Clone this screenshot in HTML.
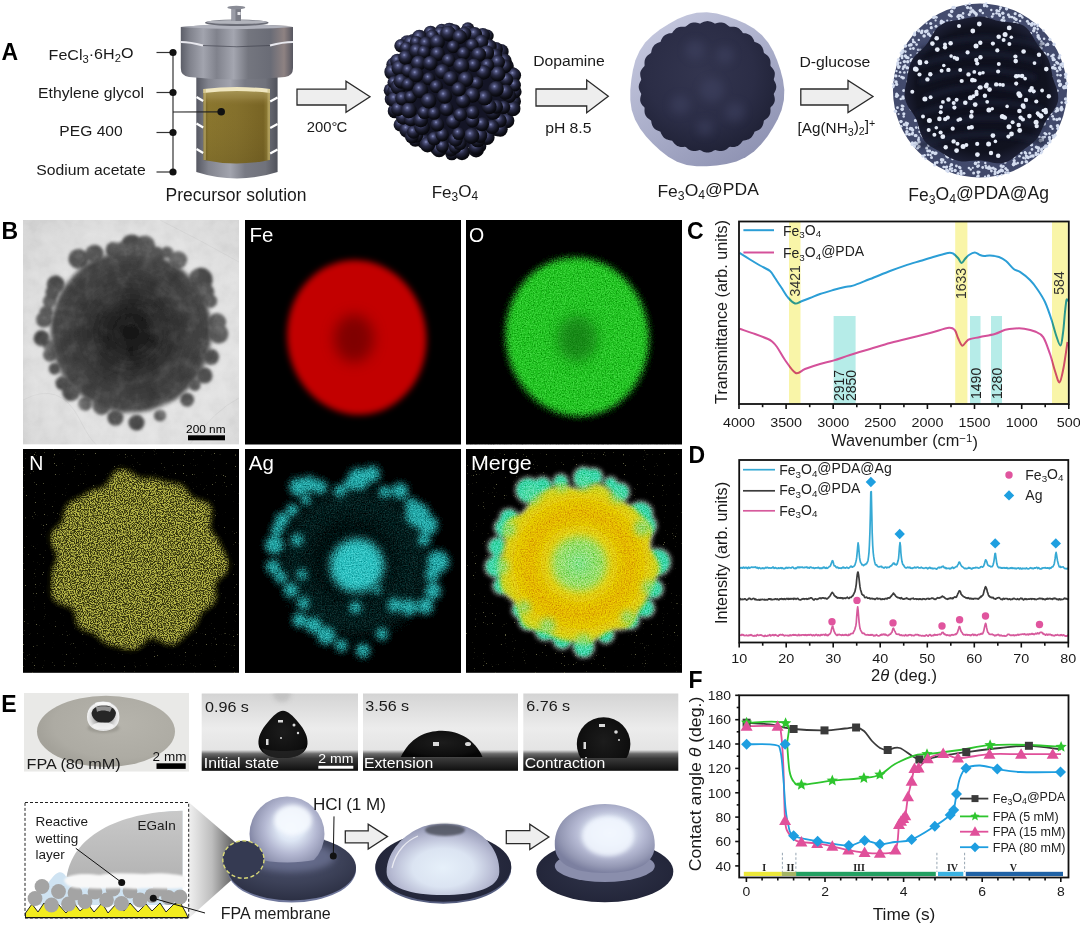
<!DOCTYPE html>
<html><head><meta charset="utf-8"><style>
html,body{margin:0;padding:0;background:#fff;}
body{width:1080px;height:926px;overflow:hidden;position:relative;}
svg{position:absolute;left:0;top:0;font-family:"Liberation Sans", sans-serif;}
</style></head><body>
<svg width="1080" height="926" viewBox="0 0 1080 926">
<defs>
<linearGradient id="metal" x1="0" x2="1" y1="0" y2="0">
<stop offset="0" stop-color="#5c5e68"/><stop offset="0.08" stop-color="#80828c"/><stop offset="0.2" stop-color="#a2a4ae"/><stop offset="0.32" stop-color="#80828c"/>
<stop offset="0.47" stop-color="#a4a6b0"/><stop offset="0.6" stop-color="#74767f"/><stop offset="0.8" stop-color="#6a6c76"/><stop offset="0.92" stop-color="#8e8282"/><stop offset="1" stop-color="#565660"/></linearGradient>
<linearGradient id="metalB" x1="0" x2="1" y1="0" y2="0">
<stop offset="0" stop-color="#565862"/><stop offset="0.15" stop-color="#82848e"/><stop offset="0.42" stop-color="#a2a4ae"/><stop offset="0.6" stop-color="#787a84"/><stop offset="0.85" stop-color="#70727b"/><stop offset="1" stop-color="#50525b"/></linearGradient>
<linearGradient id="gold" x1="0" x2="1" y1="0" y2="0">
<stop offset="0" stop-color="#6a5a20"/><stop offset="0.08" stop-color="#8a762e"/><stop offset="0.5" stop-color="#84702c"/>
<stop offset="0.9" stop-color="#786424"/><stop offset="1" stop-color="#9a8840"/></linearGradient>
<linearGradient id="goldV" x1="0" x2="0" y1="0" y2="1">
<stop offset="0" stop-color="#b0a060" stop-opacity="0.9"/><stop offset="0.12" stop-color="#a08c4c" stop-opacity="0.6"/><stop offset="0.22" stop-color="#8a7434" stop-opacity="0"/><stop offset="1" stop-color="#000" stop-opacity="0.08"/></linearGradient>
<radialGradient id="ball" cx="0.4" cy="0.33" r="0.68">
<stop offset="0" stop-color="#8a92c2"/><stop offset="0.16" stop-color="#50547e"/><stop offset="0.42" stop-color="#282a44"/><stop offset="0.75" stop-color="#10111b"/><stop offset="1" stop-color="#050509"/></radialGradient>
<linearGradient id="pdaShell" x1="0.2" y1="0.1" x2="0.8" y2="0.95">
<stop offset="0" stop-color="#c2c5dc"/><stop offset="0.5" stop-color="#a9adc9"/><stop offset="1" stop-color="#8e92b2"/></linearGradient>
<radialGradient id="pdaCore" cx="0.45" cy="0.4" r="0.65">
<stop offset="0" stop-color="#33354f"/><stop offset="0.6" stop-color="#2b2d46"/><stop offset="1" stop-color="#1e2034"/></radialGradient>
<radialGradient id="agShell" cx="0.45" cy="0.4" r="0.6">
<stop offset="0" stop-color="#4a5274"/><stop offset="1" stop-color="#40486a"/></radialGradient>
<radialGradient id="agCore" cx="0.5" cy="0.5" r="0.5">
<stop offset="0" stop-color="#0e0f1c"/><stop offset="0.85" stop-color="#10121f"/><stop offset="1" stop-color="#1c1f34"/></radialGradient>
<filter id="blur2" x="-20%" y="-20%" width="140%" height="140%"><feGaussianBlur stdDeviation="2"/></filter>
<filter id="blur3" x="-20%" y="-20%" width="140%" height="140%"><feGaussianBlur stdDeviation="3"/></filter>
<filter id="blur4" x="-30%" y="-30%" width="160%" height="160%"><feGaussianBlur stdDeviation="4"/></filter>
<filter id="blur7" x="-50%" y="-50%" width="200%" height="200%"><feGaussianBlur stdDeviation="7"/></filter>
<filter id="blur1" x="-20%" y="-20%" width="140%" height="140%"><feGaussianBlur stdDeviation="1"/></filter>
<filter id="blur15" x="-20%" y="-20%" width="140%" height="140%"><feGaussianBlur stdDeviation="1.5"/></filter>
<filter id="grain" x="0" y="0" width="100%" height="100%">
<feTurbulence type="fractalNoise" baseFrequency="0.75" numOctaves="2" seed="5" result="n"/>
<feColorMatrix in="n" type="matrix" values="1.6 0 0 0 -0.3  1.6 0 0 0 -0.3  1.6 0 0 0 -0.3  0 0 0 0 1" result="g"/>
<feBlend in="g" in2="SourceGraphic" mode="soft-light" result="b"/>
<feComposite in="b" in2="SourceGraphic" operator="in"/></filter>
<filter id="grainT" x="0" y="0" width="100%" height="100%">
<feTurbulence type="fractalNoise" baseFrequency="0.07" numOctaves="3" seed="9" result="n"/>
<feColorMatrix in="n" type="matrix" values="0.38 0 0 0 0.31  0.38 0 0 0 0.31  0.38 0 0 0 0.31  0 0 0 0 1" result="g"/>
<feBlend in="g" in2="SourceGraphic" mode="soft-light" result="b"/>
<feComposite in="b" in2="SourceGraphic" operator="in"/></filter>
<radialGradient id="temBg" cx="0.55" cy="0.55" r="0.8"><stop offset="0" stop-color="#e8e8e8"/><stop offset="0.6" stop-color="#e0e0e0"/><stop offset="1" stop-color="#d2d2d2"/></radialGradient>
<radialGradient id="temCore" cx="0.5" cy="0.5" r="0.5"><stop offset="0" stop-color="#161616"/><stop offset="0.2" stop-color="#1d1d1d"/><stop offset="0.42" stop-color="#2d2d2d"/><stop offset="0.7" stop-color="#3b3b3b"/><stop offset="0.9" stop-color="#444"/><stop offset="1" stop-color="#4e4e4e"/></radialGradient>
<filter id="speckY" x="0" y="0" width="100%" height="100%">
<feTurbulence type="fractalNoise" baseFrequency="0.85" numOctaves="2" seed="3" result="n"/>
<feColorMatrix in="n" type="matrix" values="0 0 0 0 0.74  0 0 0 0 0.74  0 0 0 0 0.1  0 0 0 -4.5 2.75"/><feGaussianBlur stdDeviation="0.4" result="sp"/>
<feGaussianBlur in="SourceAlpha" stdDeviation="2.5" result="sa"/>
<feComposite in="sp" in2="sa" operator="in"/></filter>
<filter id="speckW" x="0" y="0" width="100%" height="100%">
<feTurbulence type="fractalNoise" baseFrequency="0.9" numOctaves="1" seed="11" result="n"/>
<feColorMatrix in="n" type="matrix" values="0 0 0 0 0.5  0 0 0 0 0.5  0 0 0 0 0.2  0 0 0 14 -9.9"/>
<feComposite in2="SourceAlpha" operator="in"/></filter>
<radialGradient id="mG" cx="0.5" cy="0.5" r="0.5"><stop offset="0" stop-color="#7ee28a"/><stop offset="0.28" stop-color="#9ade60"/><stop offset="0.4" stop-color="#e2d00a"/><stop offset="0.62" stop-color="#e4b600"/><stop offset="0.85" stop-color="#e2cc08"/><stop offset="1" stop-color="#c4d828"/></radialGradient>
<radialGradient id="diskG" cx="0.6" cy="0.4" r="0.6"><stop offset="0" stop-color="#b6b4ac"/><stop offset="0.8" stop-color="#adaba3"/><stop offset="1" stop-color="#a4a29a"/></radialGradient>
<radialGradient id="silverG" cx="0.5" cy="0.55" r="0.55"><stop offset="0" stop-color="#777"/><stop offset="0.45" stop-color="#aaa"/><stop offset="0.75" stop-color="#e0e0e0"/><stop offset="0.92" stop-color="#f4f4f4"/><stop offset="1" stop-color="#bdbdbd"/></radialGradient>
<linearGradient id="camBg" x1="0" x2="0" y1="0" y2="1"><stop offset="0" stop-color="#d4d4d4"/><stop offset="0.45" stop-color="#ececec"/><stop offset="0.73" stop-color="#e4e4e4"/><stop offset="0.78" stop-color="#6a6a6a"/><stop offset="0.84" stop-color="#3a3a3a"/><stop offset="1" stop-color="#0e0e0e"/></linearGradient>
<radialGradient id="dropG" cx="0.5" cy="0.45" r="0.6"><stop offset="0" stop-color="#1c1c1c"/><stop offset="0.8" stop-color="#0e0e0e"/><stop offset="1" stop-color="#050505"/></radialGradient>
<linearGradient id="zoomG" x1="0" x2="1" y1="0" y2="0"><stop offset="0" stop-color="#f0f0f0"/><stop offset="0.5" stop-color="#bdbdbd"/><stop offset="1" stop-color="#5a5a5a"/></linearGradient>
<linearGradient id="egainG" x1="0" x2="0" y1="0" y2="1"><stop offset="0" stop-color="#c9c9c9"/><stop offset="1" stop-color="#b4b4b4"/></linearGradient>
<radialGradient id="memG" cx="0.5" cy="0.35" r="0.65"><stop offset="0" stop-color="#4e5470"/><stop offset="0.6" stop-color="#3c4158"/><stop offset="1" stop-color="#2c3044"/></radialGradient>
<radialGradient id="memG2" cx="0.5" cy="0.5" r="0.5"><stop offset="0" stop-color="#30344a"/><stop offset="1" stop-color="#23263a"/></radialGradient>
<radialGradient id="domeG" cx="0.55" cy="0.42" r="0.58"><stop offset="0" stop-color="#f4f8ff"/><stop offset="0.3" stop-color="#dde6f4"/><stop offset="0.6" stop-color="#b4b8d2"/><stop offset="0.85" stop-color="#9498b4"/><stop offset="1" stop-color="#7c80a0"/></radialGradient>
<radialGradient id="dome2G" cx="0.5" cy="0.62" r="0.6"><stop offset="0" stop-color="#e6f0fa"/><stop offset="0.45" stop-color="#dbe4f2"/><stop offset="0.75" stop-color="#b8bcd4"/><stop offset="1" stop-color="#9498b4"/></radialGradient>
</defs>
<text x="1.5" y="60" font-size="23" text-anchor="start" font-weight="bold" fill="#000" >A</text>
<g transform="translate(91,60) scale(1.05,1)"><text x="0" y="0" font-size="15.3" text-anchor="middle" font-weight="normal" fill="#1a1a1a" >FeCl<tspan font-size="70%" dy="0.25em">3</tspan><tspan dy="-0.25em">​</tspan>·6H<tspan font-size="70%" dy="0.25em">2</tspan><tspan dy="-0.25em">​</tspan>O</text></g>
<g transform="translate(91,98) scale(1.05,1)"><text x="0" y="0" font-size="15" text-anchor="middle" font-weight="normal" fill="#1a1a1a" >Ethylene glycol</text></g>
<g transform="translate(91,136.3) scale(1.04,1)"><text x="0" y="0" font-size="15" text-anchor="middle" font-weight="normal" fill="#1a1a1a" >PEG 400</text></g>
<g transform="translate(91,174.5) scale(1.05,1)"><text x="0" y="0" font-size="15" text-anchor="middle" font-weight="normal" fill="#1a1a1a" >Sodium acetate</text></g>
<g stroke="#333" stroke-width="1.2" fill="none">
<line x1="156.5" y1="52.5" x2="173" y2="52.5"/>
<line x1="156.5" y1="92.5" x2="173" y2="92.5"/>
<line x1="156.5" y1="132.5" x2="173" y2="132.5"/>
<line x1="156.5" y1="172" x2="173" y2="172"/>
<line x1="173" y1="52.5" x2="173" y2="172"/>
</g>
<path d="M196.3,72 L277.6,72 L277.6,172 Q237,185 196.3,172 Z" fill="url(#metalB)"/>
<path d="M180.8,27 Q237,21 293,27 L293,68 Q293,76 285,77 Q237,82 189,77 Q180.8,76 180.8,68 Z" fill="url(#metal)"/>
<path d="M180.8,27 Q237,21 293,27 Q237,31 180.8,27 Z" fill="#b0b2bc"/>
<path d="M181,42 Q190,42 203,45.5" stroke="#e8e8ee" stroke-width="2.2" fill="none"/>
<path d="M270,45.5 Q283,42 293,42" stroke="#e8e8ee" stroke-width="2.2" fill="none"/>
<path d="M203,45.5 Q237,48 270,45.5" stroke="#3a3c48" stroke-width="1" fill="none" opacity="0.6"/>
<ellipse cx="236.8" cy="22.8" rx="31.8" ry="3.2" fill="#6a6c76"/>
<ellipse cx="236.8" cy="22" rx="30" ry="2" fill="#b2b4bc"/>
<rect x="231.5" y="8" width="9.5" height="13" fill="#7a7c86"/>
<rect x="231.5" y="8" width="4" height="13" fill="#9a9ca6"/>
<rect x="237.5" y="12" width="3" height="3" fill="#e8e8ec"/>
<ellipse cx="236.3" cy="7.5" rx="9" ry="1.8" fill="#8a8c96"/>
<path d="M203.4,89 L270,89 L270,160 Q237,167 203.4,160 Z" fill="url(#gold)"/>
<path d="M203.4,89 L270,89 L270,160 Q237,167 203.4,160 Z" fill="url(#goldV)"/>
<path d="M203.4,89 Q237,85 270,89 L270,93 Q237,89 203.4,93 Z" fill="#efe6c0"/>
<rect x="203.4" y="89" width="2.5" height="71" fill="#c8b878" opacity="0.6"/>
<rect x="267.5" y="89" width="2.5" height="71" fill="#c8b878" opacity="0.5"/>
<path d="M196.5,97 L203.2,101" stroke="#fff" stroke-width="2.2" fill="none"/>
<path d="M270.2,101.5 L277.5,97.5" stroke="#fff" stroke-width="2.2" fill="none"/>
<path d="M196.5,123.5 L203.2,127.5" stroke="#fff" stroke-width="2.2" fill="none"/>
<path d="M270.2,128.0 L277.5,124.0" stroke="#fff" stroke-width="2.2" fill="none"/>
<path d="M196.5,149 L203.2,153" stroke="#fff" stroke-width="2.2" fill="none"/>
<path d="M270.2,153.5 L277.5,149.5" stroke="#fff" stroke-width="2.2" fill="none"/>
<line x1="173" y1="112" x2="221" y2="111.8" stroke="#222" stroke-width="1.2"/>
<circle cx="221.2" cy="111.8" r="3.8" fill="#111"/>
<g fill="#111">
<circle cx="173" cy="52.5" r="3.6"/>
<circle cx="173" cy="92.5" r="3.6"/>
<circle cx="173" cy="132.5" r="3.6"/>
<circle cx="173" cy="172" r="3.6"/>
</g>
<text x="236" y="200.7" font-size="17.5" text-anchor="middle" font-weight="normal" fill="#1a1a1a" >Precursor solution</text>
<path d="M297,89.1 L346,89.1 L346,81.1 L370,96.7 L346,112.2 L346,105 L297,105 Z" fill="#eeeeee" stroke="#2a2a2a" stroke-width="1.3" stroke-linejoin="miter"/>
<g transform="translate(327,132) scale(0.99,1)"><text x="0" y="0" font-size="15" text-anchor="middle" font-weight="normal" fill="#1a1a1a" >200°<tspan dx="-1">C</tspan></text></g>
<g transform="translate(569,66) scale(1.05,1)"><text x="0" y="0" font-size="15" text-anchor="middle" font-weight="normal" fill="#1a1a1a" >Dopamine</text></g>
<path d="M536,89 L586.7,89 L586.7,80 L608.3,96.3 L586.7,112.7 L586.7,106 L536,106 Z" fill="#eeeeee" stroke="#2a2a2a" stroke-width="1.3" stroke-linejoin="miter"/>
<g transform="translate(568.3,132.7) scale(1.05,1)"><text x="0" y="0" font-size="15" text-anchor="middle" font-weight="normal" fill="#1a1a1a" >pH 8.5</text></g>
<g transform="translate(834.9,66.7) scale(1.05,1)"><text x="0" y="0" font-size="15" text-anchor="middle" font-weight="normal" fill="#1a1a1a" >D-glucose</text></g>
<path d="M800.8,89 L848,89 L848,80.5 L873,96.5 L848,112.5 L848,105 L800.8,105 Z" fill="#eeeeee" stroke="#2a2a2a" stroke-width="1.3" stroke-linejoin="miter"/>
<g transform="translate(836.4,133.3) scale(1.02,1)"><text x="0" y="0" font-size="15" text-anchor="middle" font-weight="normal" fill="#1a1a1a" >[Ag(NH<tspan font-size="70%" dy="0.25em">3</tspan><tspan dy="-0.25em">​</tspan>)<tspan font-size="70%" dy="0.25em">2</tspan><tspan dy="-0.25em">​</tspan>]<tspan font-size="70%" dy="-0.38em">+</tspan><tspan dy="0.38em">​</tspan></text></g>
<circle cx="451.7" cy="89.5" r="60" fill="#141526"/>
<g>
<circle cx="407.3" cy="42.8" r="7.6" fill="url(#ball)"/>
<circle cx="451.8" cy="153.8" r="6.5" fill="url(#ball)"/>
<circle cx="487.3" cy="36" r="6.4" fill="url(#ball)"/>
<circle cx="392.4" cy="98.9" r="7.7" fill="url(#ball)"/>
<circle cx="500.7" cy="124.9" r="7.2" fill="url(#ball)"/>
<circle cx="441.7" cy="30.4" r="6.6" fill="url(#ball)"/>
<circle cx="424.2" cy="141.9" r="7.3" fill="url(#ball)"/>
<circle cx="512.1" cy="73.9" r="6.9" fill="url(#ball)"/>
<circle cx="393.3" cy="64.6" r="7" fill="url(#ball)"/>
<circle cx="476.1" cy="149.5" r="7.9" fill="url(#ball)"/>
<circle cx="467.9" cy="28.8" r="6.5" fill="url(#ball)"/>
<circle cx="400.4" cy="124.8" r="6.8" fill="url(#ball)"/>
<circle cx="513.6" cy="101.2" r="7.4" fill="url(#ball)"/>
<circle cx="413.4" cy="41.6" r="7.5" fill="url(#ball)"/>
<circle cx="437.3" cy="147.5" r="7.8" fill="url(#ball)"/>
<circle cx="501.1" cy="51.7" r="7.6" fill="url(#ball)"/>
<circle cx="390.6" cy="90.2" r="6.9" fill="url(#ball)"/>
<circle cx="497.1" cy="128.6" r="7.6" fill="url(#ball)"/>
<circle cx="449.4" cy="30.4" r="7.7" fill="url(#ball)"/>
<circle cx="415.3" cy="139.8" r="6.9" fill="url(#ball)"/>
<circle cx="513" cy="81.5" r="6.4" fill="url(#ball)"/>
<circle cx="401.1" cy="45.8" r="6.8" fill="url(#ball)"/>
<circle cx="462" cy="152.2" r="8" fill="url(#ball)"/>
<circle cx="482.8" cy="35.3" r="7.3" fill="url(#ball)"/>
<circle cx="395.1" cy="110.9" r="7.4" fill="url(#ball)"/>
<circle cx="506.9" cy="120.7" r="7.5" fill="url(#ball)"/>
<circle cx="430.6" cy="32.7" r="7" fill="url(#ball)"/>
<circle cx="434.1" cy="144.5" r="7.1" fill="url(#ball)"/>
<circle cx="506.7" cy="66.1" r="7.1" fill="url(#ball)"/>
<circle cx="392.3" cy="72" r="8" fill="url(#ball)"/>
<circle cx="479.7" cy="146" r="6.7" fill="url(#ball)"/>
<circle cx="467.6" cy="31.8" r="6.4" fill="url(#ball)"/>
<circle cx="407.1" cy="129.9" r="7.8" fill="url(#ball)"/>
<circle cx="514.9" cy="91.8" r="6.7" fill="url(#ball)"/>
<circle cx="410.6" cy="42.7" r="7.3" fill="url(#ball)"/>
<circle cx="450.8" cy="149.5" r="7.2" fill="url(#ball)"/>
<circle cx="495.9" cy="49" r="7.1" fill="url(#ball)"/>
<circle cx="393.6" cy="90.9" r="6.4" fill="url(#ball)"/>
<circle cx="500.3" cy="129.3" r="7.4" fill="url(#ball)"/>
<circle cx="440.2" cy="33.6" r="7.2" fill="url(#ball)"/>
<circle cx="416.5" cy="136.1" r="6.6" fill="url(#ball)"/>
<circle cx="513.8" cy="75.3" r="7.3" fill="url(#ball)"/>
<circle cx="397.5" cy="61.1" r="7.4" fill="url(#ball)"/>
<circle cx="476.3" cy="147.7" r="7.4" fill="url(#ball)"/>
<circle cx="474.7" cy="34.4" r="7.4" fill="url(#ball)"/>
<circle cx="395.2" cy="110.4" r="6.9" fill="url(#ball)"/>
<circle cx="512.9" cy="108.7" r="7.6" fill="url(#ball)"/>
<circle cx="419.4" cy="37.5" r="7.7" fill="url(#ball)"/>
<circle cx="439.1" cy="149.6" r="7.7" fill="url(#ball)"/>
<circle cx="504.3" cy="60.9" r="7.4" fill="url(#ball)"/>
<circle cx="393.8" cy="82.4" r="6.3" fill="url(#ball)"/>
<circle cx="487" cy="137.5" r="7.6" fill="url(#ball)"/>
<circle cx="454.4" cy="30.5" r="6.3" fill="url(#ball)"/>
<circle cx="411.8" cy="136.6" r="6.9" fill="url(#ball)"/>
<circle cx="514.4" cy="85.2" r="6.5" fill="url(#ball)"/>
<circle cx="406.2" cy="48.3" r="6.6" fill="url(#ball)"/>
<circle cx="455.3" cy="147.3" r="6.4" fill="url(#ball)"/>
<circle cx="489.6" cy="46.7" r="7.2" fill="url(#ball)"/>
<circle cx="394.8" cy="99.6" r="7.8" fill="url(#ball)"/>
<circle cx="499.8" cy="120.8" r="7" fill="url(#ball)"/>
<circle cx="432.1" cy="36" r="6.5" fill="url(#ball)"/>
<circle cx="427.5" cy="144.6" r="7.8" fill="url(#ball)"/>
<circle cx="505" cy="66.4" r="6.8" fill="url(#ball)"/>
<circle cx="399.3" cy="68" r="7.8" fill="url(#ball)"/>
<circle cx="477.8" cy="139.9" r="7.4" fill="url(#ball)"/>
<circle cx="464.4" cy="33.6" r="6.9" fill="url(#ball)"/>
<circle cx="403.1" cy="117.5" r="7.2" fill="url(#ball)"/>
<circle cx="509.3" cy="96.1" r="6.9" fill="url(#ball)"/>
<circle cx="416.2" cy="42.2" r="6.3" fill="url(#ball)"/>
<circle cx="442.4" cy="146.1" r="6.6" fill="url(#ball)"/>
<circle cx="495.2" cy="55.5" r="7" fill="url(#ball)"/>
<circle cx="398.5" cy="86.7" r="7.9" fill="url(#ball)"/>
<circle cx="492.2" cy="126.9" r="7.1" fill="url(#ball)"/>
<circle cx="448.2" cy="33.5" r="7.9" fill="url(#ball)"/>
<circle cx="413.5" cy="132.2" r="6.6" fill="url(#ball)"/>
<circle cx="506.5" cy="79.6" r="6.7" fill="url(#ball)"/>
<circle cx="405.7" cy="57.5" r="7.3" fill="url(#ball)"/>
<circle cx="459.7" cy="143.5" r="6.8" fill="url(#ball)"/>
<circle cx="481.2" cy="41.9" r="7.1" fill="url(#ball)"/>
<circle cx="398.2" cy="109" r="7.2" fill="url(#ball)"/>
<circle cx="503.6" cy="107.3" r="6.6" fill="url(#ball)"/>
<circle cx="425.7" cy="43.7" r="7.1" fill="url(#ball)"/>
<circle cx="434.2" cy="138.6" r="6.9" fill="url(#ball)"/>
<circle cx="497.9" cy="62.1" r="7.2" fill="url(#ball)"/>
<circle cx="401.1" cy="81.2" r="7.5" fill="url(#ball)"/>
<circle cx="479.9" cy="135.6" r="7.4" fill="url(#ball)"/>
<circle cx="459.7" cy="36.9" r="7.3" fill="url(#ball)"/>
<circle cx="410.7" cy="119.7" r="6.5" fill="url(#ball)"/>
<circle cx="505.5" cy="92.1" r="7.6" fill="url(#ball)"/>
<circle cx="416.6" cy="51" r="7.5" fill="url(#ball)"/>
<circle cx="455.7" cy="139.6" r="7.1" fill="url(#ball)"/>
<circle cx="486.7" cy="52.9" r="7.5" fill="url(#ball)"/>
<circle cx="402.3" cy="98.5" r="7.1" fill="url(#ball)"/>
<circle cx="493.2" cy="112" r="7.7" fill="url(#ball)"/>
<circle cx="437.3" cy="42.1" r="7.6" fill="url(#ball)"/>
<circle cx="422.1" cy="127.2" r="7.8" fill="url(#ball)"/>
<circle cx="497.7" cy="73.9" r="7.7" fill="url(#ball)"/>
<circle cx="408.2" cy="70.6" r="6.7" fill="url(#ball)"/>
<circle cx="471.5" cy="136" r="7.9" fill="url(#ball)"/>
<circle cx="472.1" cy="45.1" r="6.5" fill="url(#ball)"/>
<circle cx="408.8" cy="110.5" r="7.9" fill="url(#ball)"/>
<circle cx="496.2" cy="106.9" r="6.9" fill="url(#ball)"/>
<circle cx="423.9" cy="52" r="6.6" fill="url(#ball)"/>
<circle cx="442.2" cy="134.8" r="6.7" fill="url(#ball)"/>
<circle cx="487.4" cy="65.3" r="6.7" fill="url(#ball)"/>
<circle cx="408" cy="84.4" r="6.4" fill="url(#ball)"/>
<circle cx="482" cy="124.2" r="7" fill="url(#ball)"/>
<circle cx="453.2" cy="46.8" r="6.4" fill="url(#ball)"/>
<circle cx="420.8" cy="120.2" r="7.3" fill="url(#ball)"/>
<circle cx="496" cy="89" r="7.8" fill="url(#ball)"/>
<circle cx="418.5" cy="63.1" r="7.5" fill="url(#ball)"/>
<circle cx="458.6" cy="133.7" r="6.4" fill="url(#ball)"/>
<circle cx="478.7" cy="54.6" r="7.4" fill="url(#ball)"/>
<circle cx="410.7" cy="97" r="6.3" fill="url(#ball)"/>
<circle cx="489.3" cy="106.8" r="7.4" fill="url(#ball)"/>
<circle cx="437.6" cy="53.9" r="7.3" fill="url(#ball)"/>
<circle cx="437.4" cy="124.6" r="6.8" fill="url(#ball)"/>
<circle cx="483.6" cy="72.4" r="7.3" fill="url(#ball)"/>
<circle cx="416.2" cy="74.8" r="7.5" fill="url(#ball)"/>
<circle cx="472.5" cy="120.8" r="6.7" fill="url(#ball)"/>
<circle cx="463.6" cy="53.3" r="6.5" fill="url(#ball)"/>
<circle cx="424.4" cy="112.5" r="6.6" fill="url(#ball)"/>
<circle cx="484.7" cy="97.9" r="7.7" fill="url(#ball)"/>
<circle cx="430.2" cy="63.4" r="7.3" fill="url(#ball)"/>
<circle cx="453.2" cy="121.6" r="7.3" fill="url(#ball)"/>
<circle cx="473.9" cy="65.2" r="6.8" fill="url(#ball)"/>
<circle cx="420.3" cy="90.3" r="8" fill="url(#ball)"/>
<circle cx="472.6" cy="112.5" r="6.7" fill="url(#ball)"/>
<circle cx="448.6" cy="60.3" r="6.8" fill="url(#ball)"/>
<circle cx="434.1" cy="113.3" r="6.5" fill="url(#ball)"/>
<circle cx="476.5" cy="83.2" r="6.6" fill="url(#ball)"/>
<circle cx="428.9" cy="78.8" r="6.5" fill="url(#ball)"/>
<circle cx="460.3" cy="114.8" r="6.8" fill="url(#ball)"/>
<circle cx="461.2" cy="65.9" r="8" fill="url(#ball)"/>
<circle cx="428.7" cy="100.8" r="7.7" fill="url(#ball)"/>
<circle cx="472.4" cy="95.1" r="7.6" fill="url(#ball)"/>
<circle cx="442.3" cy="71.6" r="7.5" fill="url(#ball)"/>
<circle cx="446.5" cy="108.9" r="7.1" fill="url(#ball)"/>
<circle cx="465.7" cy="79.3" r="7.7" fill="url(#ball)"/>
<circle cx="436.3" cy="86.5" r="6.6" fill="url(#ball)"/>
<circle cx="463.1" cy="100.8" r="7.3" fill="url(#ball)"/>
<circle cx="450.5" cy="78.4" r="7.5" fill="url(#ball)"/>
<circle cx="444.6" cy="96.2" r="7.6" fill="url(#ball)"/>
<circle cx="458.6" cy="89.3" r="7.2" fill="url(#ball)"/>
</g>
<text x="454.9" y="198" font-size="17" text-anchor="middle" font-weight="normal" fill="#1a1a1a" >Fe<tspan font-size="70%" dy="0.25em">3</tspan><tspan dy="-0.25em">​</tspan>O<tspan font-size="70%" dy="0.25em">4</tspan><tspan dy="-0.25em">​</tspan></text>
<path d="M784.3,89.9 L783.9,100.1 L781.6,109.9 L777.7,119.3 L772.8,128 L767.4,136.4 L761.2,144.3 L754,151.5 L745.7,157.3 L736.4,161.4 L726.6,163.9 L716.7,165.5 L706.8,166.3 L696.7,166.3 L686.7,164.9 L677,161.7 L668.2,156.8 L660.2,150.6 L652.9,143.8 L646.1,136.4 L640,128.5 L635,119.6 L631.7,110 L630.3,100 L630.3,89.9 L631.3,80 L632.9,70.1 L635.4,60.3 L639.5,51 L645.2,42.6 L652.3,35.4 L660.3,29.3 L668.7,23.9 L677.5,19.1 L686.8,15.2 L696.6,12.8 L706.8,12.3 L716.8,13.6 L726.6,16.2 L736,19.5 L745.2,23.5 L753.9,28.5 L761.8,34.9 L768.3,42.7 L773.4,51.5 L777.3,60.7 L780.5,70.2 L783,79.9 Z" fill="url(#pdaShell)"/>
<path d="M776.3,86.8 L776.2,87.9 L776,89.1 L775.6,90.2 L775.1,91.3 L774.5,92.4 L773.9,93.5 L773.8,94.6 L774.2,95.8 L774.5,96.9 L774.7,98.1 L774.8,99.3 L774.8,100.5 L774.6,101.6 L774.2,102.7 L773.7,103.7 L773,104.7 L772.3,105.7 L771.4,106.6 L770.5,107.5 L770.4,108.7 L770.5,109.9 L770.5,111.1 L770.4,112.3 L770.2,113.5 L769.8,114.6 L769.4,115.6 L768.7,116.6 L768,117.5 L767.1,118.3 L766.1,119.1 L765.1,119.8 L764,120.5 L763.7,121.6 L763.5,122.9 L763.2,124 L762.8,125.2 L762.3,126.3 L761.7,127.2 L761,128.2 L760.1,129 L759.1,129.7 L758.1,130.3 L756.9,130.8 L755.7,131.3 L754.5,131.7 L754.1,132.9 L753.6,134 L753,135.1 L752.4,136.1 L751.7,137 L750.8,137.9 L749.9,138.6 L748.8,139.2 L747.7,139.6 L746.5,140 L745.3,140.3 L744,140.4 L742.8,140.7 L742.1,141.8 L741.3,142.8 L740.5,143.7 L739.6,144.5 L738.7,145.3 L737.7,145.9 L736.6,146.3 L735.4,146.7 L734.2,146.9 L732.9,146.9 L731.7,146.9 L730.4,146.8 L729.2,147 L728.3,147.8 L727.3,148.7 L726.3,149.4 L725.2,150 L724.1,150.5 L723,150.8 L721.8,151 L720.6,151.1 L719.4,151 L718.1,150.8 L716.9,150.5 L715.6,150.1 L714.5,150.2 L713.4,150.8 L712.2,151.4 L711.1,151.9 L709.9,152.2 L708.7,152.4 L707.5,152.5 L706.3,152.4 L705.1,152.2 L703.9,151.9 L702.8,151.4 L701.6,150.8 L700.5,150.2 L699.4,150.1 L698.1,150.5 L696.9,150.8 L695.6,151 L694.4,151.1 L693.2,151 L692,150.8 L690.9,150.5 L689.8,150 L688.7,149.4 L687.7,148.7 L686.7,147.8 L685.8,147 L684.6,146.8 L683.3,146.9 L682.1,146.9 L680.8,146.9 L679.6,146.7 L678.4,146.3 L677.3,145.9 L676.3,145.3 L675.4,144.5 L674.5,143.7 L673.7,142.8 L672.9,141.8 L672.2,140.7 L671,140.4 L669.7,140.3 L668.5,140 L667.3,139.6 L666.2,139.2 L665.1,138.6 L664.2,137.9 L663.3,137 L662.6,136.1 L662,135.1 L661.4,134 L660.9,132.9 L660.5,131.7 L659.3,131.3 L658.1,130.8 L656.9,130.3 L655.9,129.7 L654.9,129 L654,128.2 L653.3,127.2 L652.7,126.3 L652.2,125.2 L651.8,124 L651.5,122.9 L651.3,121.6 L651,120.5 L649.9,119.8 L648.9,119.1 L647.9,118.3 L647,117.5 L646.3,116.6 L645.6,115.6 L645.2,114.6 L644.8,113.5 L644.6,112.3 L644.5,111.1 L644.5,109.9 L644.6,108.7 L644.5,107.5 L643.6,106.6 L642.7,105.7 L642,104.7 L641.3,103.7 L640.8,102.7 L640.4,101.6 L640.2,100.5 L640.2,99.3 L640.3,98.1 L640.5,96.9 L640.8,95.8 L641.2,94.6 L641.1,93.5 L640.5,92.4 L639.9,91.3 L639.4,90.2 L639,89.1 L638.8,87.9 L638.7,86.8 L638.8,85.7 L639,84.5 L639.4,83.4 L639.9,82.3 L640.5,81.2 L641.1,80.1 L641.2,79 L640.8,77.8 L640.5,76.7 L640.3,75.5 L640.2,74.3 L640.2,73.1 L640.4,72 L640.8,70.9 L641.3,69.9 L642,68.9 L642.7,67.9 L643.6,67 L644.5,66.1 L644.6,64.9 L644.5,63.7 L644.5,62.5 L644.6,61.3 L644.8,60.1 L645.2,59 L645.6,58 L646.3,57 L647,56.1 L647.9,55.3 L648.9,54.5 L649.9,53.8 L651,53.1 L651.3,52 L651.5,50.7 L651.8,49.6 L652.2,48.4 L652.7,47.3 L653.3,46.4 L654,45.4 L654.9,44.6 L655.9,43.9 L656.9,43.3 L658.1,42.8 L659.3,42.3 L660.5,41.9 L660.9,40.7 L661.4,39.6 L662,38.5 L662.6,37.5 L663.3,36.6 L664.2,35.7 L665.1,35 L666.2,34.4 L667.3,34 L668.5,33.6 L669.7,33.3 L671,33.2 L672.2,32.9 L672.9,31.8 L673.7,30.8 L674.5,29.9 L675.4,29.1 L676.3,28.3 L677.3,27.7 L678.4,27.3 L679.6,26.9 L680.8,26.7 L682.1,26.7 L683.3,26.7 L684.6,26.8 L685.8,26.6 L686.7,25.8 L687.7,24.9 L688.7,24.2 L689.8,23.6 L690.9,23.1 L692,22.8 L693.2,22.6 L694.4,22.5 L695.6,22.6 L696.9,22.8 L698.1,23.1 L699.4,23.5 L700.5,23.4 L701.6,22.8 L702.8,22.2 L703.9,21.7 L705.1,21.4 L706.3,21.2 L707.5,21.1 L708.7,21.2 L709.9,21.4 L711.1,21.7 L712.2,22.2 L713.4,22.8 L714.5,23.4 L715.6,23.5 L716.9,23.1 L718.1,22.8 L719.4,22.6 L720.6,22.5 L721.8,22.6 L723,22.8 L724.1,23.1 L725.2,23.6 L726.3,24.2 L727.3,24.9 L728.3,25.8 L729.2,26.6 L730.4,26.8 L731.7,26.7 L732.9,26.7 L734.2,26.7 L735.4,26.9 L736.6,27.3 L737.7,27.7 L738.7,28.3 L739.6,29.1 L740.5,29.9 L741.3,30.8 L742.1,31.8 L742.8,32.9 L744,33.2 L745.3,33.3 L746.5,33.6 L747.7,34 L748.8,34.4 L749.9,35 L750.8,35.7 L751.7,36.6 L752.4,37.5 L753,38.5 L753.6,39.6 L754.1,40.7 L754.5,41.9 L755.7,42.3 L756.9,42.8 L758.1,43.3 L759.1,43.9 L760.1,44.6 L761,45.4 L761.7,46.4 L762.3,47.3 L762.8,48.4 L763.2,49.6 L763.5,50.7 L763.7,52 L764,53.1 L765.1,53.8 L766.1,54.5 L767.1,55.3 L768,56.1 L768.7,57 L769.4,58 L769.8,59 L770.2,60.1 L770.4,61.3 L770.5,62.5 L770.5,63.7 L770.4,64.9 L770.5,66.1 L771.4,67 L772.3,67.9 L773,68.9 L773.7,69.9 L774.2,70.9 L774.6,72 L774.8,73.1 L774.8,74.3 L774.7,75.5 L774.5,76.7 L774.2,77.8 L773.8,79 L773.9,80.1 L774.5,81.2 L775.1,82.3 L775.6,83.4 L776,84.5 L776.2,85.7 Z" fill="url(#pdaCore)"/>
<g fill="#4a4d70" opacity="0.35" filter="url(#blur4)">
<circle cx="695" cy="50" r="10"/>
<circle cx="725" cy="55" r="9"/>
<circle cx="712" cy="90" r="12"/>
<circle cx="680" cy="105" r="10"/>
<circle cx="735" cy="112" r="10"/>
<circle cx="705" cy="128" r="8"/>
</g>
<g transform="translate(708.1,197.3) scale(1.03,1)"><text x="0" y="0" font-size="17" text-anchor="middle" font-weight="normal" fill="#1a1a1a" >Fe<tspan font-size="70%" dy="0.25em">3</tspan><tspan dy="-0.25em">​</tspan>O<tspan font-size="70%" dy="0.25em">4</tspan><tspan dy="-0.25em">​</tspan>@PDA</text></g>
<circle cx="980" cy="90.5" r="87" fill="url(#agShell)"/>
<g fill="#d4ddf0">
<circle cx="1059.5" cy="67.7" r="1.7"/>
<circle cx="951.9" cy="170.9" r="1.4"/>
<circle cx="1044.2" cy="53.5" r="1.7"/>
<circle cx="1001.2" cy="169.8" r="1.5"/>
<circle cx="1027" cy="162.1" r="1.3"/>
<circle cx="952.5" cy="158.9" r="1.3"/>
<circle cx="897.5" cy="107.7" r="1.4"/>
<circle cx="951.3" cy="21.7" r="1.4"/>
<circle cx="895.4" cy="111.2" r="1.7"/>
<circle cx="939.6" cy="31.8" r="1.4"/>
<circle cx="960.8" cy="15.5" r="1.5"/>
<circle cx="911.3" cy="109" r="1.8"/>
<circle cx="1003.5" cy="17.4" r="1.5"/>
<circle cx="960" cy="167.7" r="1.5"/>
<circle cx="956.4" cy="166" r="1.4"/>
<circle cx="941.1" cy="23.2" r="1.2"/>
<circle cx="970.8" cy="12" r="1.8"/>
<circle cx="902.1" cy="58" r="1.3"/>
<circle cx="1014.5" cy="24.8" r="1.2"/>
<circle cx="1049.5" cy="137.4" r="1.6"/>
<circle cx="1014.2" cy="163" r="1.7"/>
<circle cx="918.1" cy="49.7" r="1.3"/>
<circle cx="1021.3" cy="153.1" r="1.4"/>
<circle cx="1057.8" cy="128.7" r="1.4"/>
<circle cx="896.7" cy="84.4" r="1.6"/>
<circle cx="1014.5" cy="18.5" r="1.3"/>
<circle cx="919.2" cy="128" r="1.4"/>
<circle cx="953" cy="7.5" r="1.7"/>
<circle cx="935.6" cy="20.4" r="1.1"/>
<circle cx="941.4" cy="159.7" r="1.6"/>
<circle cx="1042.6" cy="139.9" r="1.5"/>
<circle cx="1000.5" cy="7.4" r="1.5"/>
<circle cx="1026.2" cy="161.7" r="1.7"/>
<circle cx="904.3" cy="66.8" r="1.5"/>
<circle cx="1033" cy="156" r="1.8"/>
<circle cx="896.1" cy="82" r="1.7"/>
<circle cx="1008.3" cy="172.7" r="1.5"/>
<circle cx="1003.8" cy="160.5" r="1.3"/>
<circle cx="905.4" cy="51.6" r="1.3"/>
<circle cx="1051.7" cy="56.2" r="1.4"/>
<circle cx="1042.1" cy="151.8" r="1.2"/>
<circle cx="1047.7" cy="43.9" r="1.5"/>
<circle cx="907.7" cy="61.7" r="1.7"/>
<circle cx="1065.4" cy="86.3" r="1.5"/>
<circle cx="1041.4" cy="150.1" r="1.3"/>
<circle cx="1041.8" cy="43.8" r="1.5"/>
<circle cx="1017.1" cy="23.8" r="1.5"/>
<circle cx="1044.1" cy="123.8" r="1.2"/>
<circle cx="1066.6" cy="83.4" r="1.6"/>
<circle cx="950.3" cy="168.8" r="1.6"/>
<circle cx="919.1" cy="146.5" r="1.7"/>
<circle cx="1056.2" cy="98.4" r="1.4"/>
<circle cx="1029.8" cy="153" r="1.5"/>
<circle cx="1017.7" cy="163.1" r="1.3"/>
<circle cx="908.1" cy="57.7" r="1.5"/>
<circle cx="1061.4" cy="110.2" r="1.2"/>
<circle cx="1060.2" cy="69.6" r="1.4"/>
<circle cx="909.4" cy="134.4" r="1.6"/>
<circle cx="984.3" cy="5.9" r="1.4"/>
<circle cx="1065.7" cy="87.6" r="1.7"/>
<circle cx="912.2" cy="134.1" r="1.5"/>
<circle cx="1047.8" cy="44.6" r="1.5"/>
<circle cx="901.2" cy="126.2" r="1.3"/>
<circle cx="1059.5" cy="118.9" r="1.7"/>
<circle cx="970.7" cy="8.2" r="1.6"/>
<circle cx="952.1" cy="168.4" r="1.1"/>
<circle cx="1037.3" cy="147.4" r="1.5"/>
<circle cx="921.9" cy="134.6" r="1.6"/>
<circle cx="903.6" cy="77.8" r="1.3"/>
<circle cx="918.7" cy="137.7" r="1.1"/>
<circle cx="1054" cy="44.4" r="1.6"/>
<circle cx="1033.7" cy="30.7" r="1.7"/>
<circle cx="994.9" cy="173.9" r="1.5"/>
<circle cx="1041.1" cy="48.1" r="1.7"/>
<circle cx="1038.5" cy="148.1" r="1.8"/>
<circle cx="1057.5" cy="90.8" r="1.3"/>
<circle cx="946.8" cy="155.9" r="1.7"/>
<circle cx="1012" cy="17.1" r="1.3"/>
<circle cx="917.5" cy="53.3" r="1.1"/>
<circle cx="1043.2" cy="43.7" r="1.4"/>
<circle cx="1059.9" cy="55.3" r="1.4"/>
<circle cx="1001.2" cy="166" r="1.7"/>
<circle cx="1041" cy="44.3" r="1.7"/>
<circle cx="930.6" cy="154.9" r="1.2"/>
<circle cx="1043.6" cy="30.5" r="1.2"/>
<circle cx="928.5" cy="34" r="1.7"/>
<circle cx="1050.9" cy="113.5" r="1.6"/>
<circle cx="946.7" cy="170.3" r="1.7"/>
<circle cx="962.7" cy="17.2" r="1.6"/>
<circle cx="1054.7" cy="59.7" r="1.2"/>
<circle cx="993.2" cy="168" r="1.6"/>
<circle cx="1005.2" cy="162.5" r="1.3"/>
<circle cx="936.4" cy="17.3" r="1.4"/>
<circle cx="934.7" cy="17.1" r="1.5"/>
<circle cx="990.3" cy="168.3" r="1.7"/>
<circle cx="941.1" cy="22.8" r="1.5"/>
<circle cx="1053.7" cy="137.3" r="1.4"/>
<circle cx="899.3" cy="76" r="1.1"/>
<circle cx="916.6" cy="44.6" r="1.3"/>
<circle cx="1004.3" cy="20.6" r="1.3"/>
<circle cx="982.8" cy="13" r="1.3"/>
<circle cx="907.1" cy="67.8" r="1.7"/>
<circle cx="1052.1" cy="84.9" r="1.4"/>
<circle cx="980.3" cy="10.6" r="1.8"/>
<circle cx="903.7" cy="90.5" r="1.5"/>
<circle cx="931.3" cy="27.7" r="1.6"/>
<circle cx="996.8" cy="10.5" r="1.5"/>
<circle cx="1027.4" cy="21.2" r="1.5"/>
<circle cx="1052.6" cy="67.7" r="1.6"/>
<circle cx="1022.2" cy="162" r="1.3"/>
<circle cx="900.9" cy="121.6" r="1.7"/>
<circle cx="999.8" cy="15.7" r="1.4"/>
<circle cx="994.9" cy="171.8" r="1.4"/>
<circle cx="1060.8" cy="108.7" r="1.6"/>
<circle cx="902.7" cy="52.5" r="1.2"/>
<circle cx="1021.4" cy="148.9" r="1.4"/>
<circle cx="906" cy="122.7" r="1.3"/>
<circle cx="1002.1" cy="20.3" r="1.7"/>
<circle cx="905.4" cy="56" r="1.7"/>
<circle cx="985.7" cy="165.8" r="1.3"/>
<circle cx="1056" cy="111.2" r="1.5"/>
<circle cx="903.1" cy="78.1" r="1.5"/>
<circle cx="1052.7" cy="135.6" r="1.2"/>
<circle cx="977.7" cy="166.3" r="1.6"/>
<circle cx="1021.5" cy="16.1" r="1.1"/>
<circle cx="912.7" cy="132.9" r="1.3"/>
<circle cx="1051.4" cy="77.1" r="1.4"/>
<circle cx="986.2" cy="3.4" r="1.2"/>
<circle cx="898.6" cy="114" r="1.1"/>
<circle cx="985.1" cy="176.7" r="1.2"/>
<circle cx="918.6" cy="139.4" r="1.4"/>
<circle cx="1044.1" cy="123.9" r="1.8"/>
<circle cx="987" cy="6.3" r="1.3"/>
<circle cx="978.3" cy="172.7" r="1.3"/>
<circle cx="895.7" cy="111.3" r="1.4"/>
<circle cx="934.6" cy="165.1" r="1.5"/>
<circle cx="1057.7" cy="110.3" r="1.6"/>
<circle cx="1053.9" cy="119" r="1.6"/>
<circle cx="1034.5" cy="28.2" r="1.7"/>
<circle cx="902.2" cy="109.1" r="1.7"/>
<circle cx="917.6" cy="148.3" r="1.3"/>
<circle cx="936.1" cy="153" r="1.5"/>
<circle cx="1019.5" cy="156.3" r="1.3"/>
<circle cx="903" cy="106.3" r="1.4"/>
<circle cx="1063.8" cy="87" r="1.7"/>
<circle cx="1002.5" cy="167.1" r="1.2"/>
<circle cx="951.4" cy="16.3" r="1.3"/>
<circle cx="1055.8" cy="99.4" r="1.3"/>
<circle cx="912.2" cy="144.5" r="1.6"/>
<circle cx="970.7" cy="169.5" r="1.2"/>
<circle cx="1053.3" cy="59.7" r="1.6"/>
<circle cx="965.6" cy="5.2" r="1.1"/>
<circle cx="945.1" cy="162.3" r="1.2"/>
<circle cx="1038.3" cy="37.3" r="1.6"/>
<circle cx="907.5" cy="81.7" r="1.4"/>
<circle cx="985.3" cy="162.9" r="1.2"/>
<circle cx="920.4" cy="49.8" r="1.3"/>
<circle cx="907" cy="128.2" r="1.2"/>
<circle cx="959" cy="15.6" r="1.6"/>
<circle cx="942" cy="25.2" r="1.2"/>
<circle cx="964" cy="173.3" r="1.4"/>
<circle cx="914.9" cy="146.8" r="1.3"/>
<circle cx="959.3" cy="167" r="1.3"/>
<circle cx="1049.6" cy="108.7" r="1.5"/>
<circle cx="901.8" cy="56.1" r="1.8"/>
<circle cx="955.1" cy="170.5" r="1.7"/>
<circle cx="997.7" cy="172.6" r="1.6"/>
<circle cx="1062.7" cy="66.6" r="1.3"/>
<circle cx="930.1" cy="35.7" r="1.4"/>
<circle cx="922.9" cy="136.3" r="1.4"/>
<circle cx="941.6" cy="162.4" r="1.3"/>
<circle cx="1023.5" cy="157.8" r="1.4"/>
<circle cx="1021.8" cy="163" r="1.3"/>
<circle cx="1046" cy="134.2" r="1.4"/>
<circle cx="1028.2" cy="157.6" r="1.6"/>
<circle cx="900.5" cy="62.9" r="1.1"/>
<circle cx="918.3" cy="140.7" r="1.1"/>
<circle cx="919.7" cy="131.8" r="1.4"/>
<circle cx="910.4" cy="48.8" r="1.3"/>
<circle cx="978.5" cy="162.3" r="1.3"/>
<circle cx="1044.1" cy="38.7" r="1.3"/>
<circle cx="942.4" cy="24" r="1.4"/>
<circle cx="914.8" cy="32.8" r="1.4"/>
<circle cx="902.9" cy="50.5" r="1.6"/>
<circle cx="922.1" cy="30.8" r="1.4"/>
<circle cx="912.6" cy="130" r="1.7"/>
<circle cx="1038.1" cy="35.8" r="1.7"/>
<circle cx="1053.1" cy="108.4" r="1.5"/>
<circle cx="951.4" cy="164.7" r="1.8"/>
<circle cx="1025" cy="152.4" r="1.3"/>
<circle cx="947.2" cy="20.5" r="1.1"/>
<circle cx="903" cy="68.8" r="1.3"/>
<circle cx="896.6" cy="93.9" r="1.5"/>
<circle cx="921.5" cy="32.5" r="1.7"/>
<circle cx="1057.5" cy="75.1" r="1.3"/>
<circle cx="1039.5" cy="38.9" r="1.6"/>
<circle cx="951.7" cy="11.4" r="1.8"/>
<circle cx="1014.2" cy="22.8" r="1.5"/>
<circle cx="897.7" cy="95.3" r="1.4"/>
<circle cx="961.2" cy="173.1" r="1.5"/>
<circle cx="986.3" cy="167.8" r="1.3"/>
<circle cx="1015.8" cy="164" r="1.2"/>
<circle cx="1047.8" cy="118.9" r="1.2"/>
<circle cx="959.1" cy="18.8" r="1.4"/>
<circle cx="991.3" cy="10" r="1.2"/>
<circle cx="1037.5" cy="26.4" r="1.1"/>
<circle cx="978" cy="172.1" r="1.7"/>
<circle cx="914.3" cy="143.3" r="1.3"/>
<circle cx="963.1" cy="13.4" r="1.3"/>
<circle cx="985" cy="4.9" r="1.7"/>
<circle cx="906.7" cy="57.4" r="1.6"/>
<circle cx="918.7" cy="30.7" r="1.7"/>
<circle cx="1036.3" cy="147" r="1.6"/>
<circle cx="989.1" cy="166.3" r="1.1"/>
<circle cx="905.4" cy="46" r="1.8"/>
<circle cx="1036" cy="153.1" r="1.4"/>
<circle cx="925.7" cy="31.6" r="1.8"/>
<circle cx="1052.7" cy="85.4" r="1.6"/>
<circle cx="1033.4" cy="139.7" r="1.3"/>
<circle cx="969.7" cy="3.7" r="1.2"/>
<circle cx="945.3" cy="153.6" r="1.5"/>
<circle cx="900.8" cy="99" r="1.3"/>
<circle cx="1006.7" cy="9" r="1.3"/>
<circle cx="915.4" cy="142.8" r="1.6"/>
<circle cx="1059.4" cy="81" r="1.6"/>
<circle cx="898.2" cy="66.2" r="1.2"/>
<circle cx="1013.8" cy="157" r="1.8"/>
<circle cx="979.3" cy="171.9" r="1.2"/>
<circle cx="948" cy="154.6" r="1.5"/>
<circle cx="1031.6" cy="155.8" r="1.3"/>
<circle cx="991.4" cy="171" r="1.4"/>
<circle cx="975.6" cy="163.3" r="1.1"/>
<circle cx="1041.4" cy="41.4" r="1.2"/>
<circle cx="1013.5" cy="164.6" r="1.8"/>
<circle cx="1005.5" cy="172.7" r="1.4"/>
<circle cx="906.6" cy="134.2" r="1.4"/>
<circle cx="1056.9" cy="119.6" r="1.6"/>
<circle cx="924.1" cy="36" r="1.8"/>
<circle cx="1037.7" cy="24.8" r="1.4"/>
<circle cx="1022.4" cy="17.5" r="1.2"/>
<circle cx="1054.9" cy="103.2" r="1.2"/>
<circle cx="1050.9" cy="126.4" r="1.6"/>
<circle cx="949.9" cy="166.5" r="1.1"/>
<circle cx="1001.6" cy="174.9" r="1.1"/>
<circle cx="895.8" cy="75.9" r="1.7"/>
<circle cx="972.7" cy="10.7" r="1.7"/>
<circle cx="1019.8" cy="15.5" r="1.8"/>
<circle cx="1050.1" cy="142" r="1.4"/>
<circle cx="958.5" cy="15.9" r="1.7"/>
<circle cx="1061.7" cy="102.6" r="1.3"/>
<circle cx="919.2" cy="141.9" r="1.6"/>
<circle cx="1009.6" cy="16.7" r="1.5"/>
<circle cx="932.5" cy="152.5" r="1.7"/>
<circle cx="947.7" cy="157.3" r="1.3"/>
<circle cx="976" cy="13.7" r="1.6"/>
<circle cx="899.6" cy="66.5" r="1.2"/>
<circle cx="1039.4" cy="137" r="1.3"/>
<circle cx="915.6" cy="120.5" r="1.5"/>
<circle cx="915.2" cy="135.5" r="1.5"/>
<circle cx="1053.3" cy="67.8" r="1.7"/>
<circle cx="943.5" cy="167" r="1.2"/>
<circle cx="1060.3" cy="84.2" r="1.8"/>
<circle cx="995.2" cy="169.3" r="1.6"/>
<circle cx="1014.2" cy="160.6" r="1.6"/>
<circle cx="1054.6" cy="65" r="1.2"/>
<circle cx="925.5" cy="158.8" r="1.2"/>
<circle cx="927.1" cy="30.8" r="1.6"/>
<circle cx="999.5" cy="171.3" r="1.7"/>
<circle cx="1031.6" cy="25.2" r="1.5"/>
<circle cx="911.9" cy="59.6" r="1.7"/>
<circle cx="950.1" cy="15.3" r="1.6"/>
<circle cx="910.2" cy="129.3" r="1.3"/>
<circle cx="913.4" cy="41.7" r="1.5"/>
<circle cx="1061.5" cy="107.2" r="1.4"/>
<circle cx="911" cy="44.7" r="1.8"/>
<circle cx="1026.9" cy="156.7" r="1.8"/>
<circle cx="974.1" cy="12" r="1.6"/>
<circle cx="1060" cy="85.2" r="1.7"/>
<circle cx="1041.1" cy="153" r="1.4"/>
<circle cx="988.5" cy="175.8" r="1.6"/>
<circle cx="1059.2" cy="57.8" r="1.7"/>
<circle cx="892.8" cy="84.1" r="1.1"/>
<circle cx="1037.7" cy="29.1" r="1.3"/>
<circle cx="1008.4" cy="14.8" r="1.5"/>
<circle cx="1030.8" cy="33.2" r="1.3"/>
<circle cx="934.4" cy="32.7" r="1.5"/>
<circle cx="998.8" cy="11.3" r="1.3"/>
<circle cx="1006.5" cy="8.8" r="1.6"/>
<circle cx="897.6" cy="64.1" r="1.7"/>
<circle cx="1026.1" cy="155.4" r="1.2"/>
<circle cx="1057.1" cy="108.7" r="1.7"/>
<circle cx="1017.6" cy="25.8" r="1.2"/>
<circle cx="914.3" cy="145.8" r="1.5"/>
<circle cx="1040" cy="47.9" r="1.8"/>
<circle cx="1002.4" cy="170.7" r="1.7"/>
<circle cx="969.3" cy="14.6" r="1.6"/>
<circle cx="915.2" cy="120.6" r="1.3"/>
<circle cx="946.8" cy="166.8" r="1.3"/>
<circle cx="913" cy="39.8" r="1.2"/>
<circle cx="1038.3" cy="151.1" r="1.4"/>
<circle cx="1031.5" cy="144.7" r="1.8"/>
<circle cx="918.8" cy="39.9" r="1.2"/>
<circle cx="1064" cy="87.8" r="1.6"/>
<circle cx="929.7" cy="151" r="1.4"/>
<circle cx="1030.5" cy="156.7" r="1.4"/>
<circle cx="1014.2" cy="17.9" r="1.4"/>
<circle cx="893.2" cy="87" r="1.3"/>
<circle cx="957.8" cy="16.4" r="1.5"/>
<circle cx="961.3" cy="174.6" r="1.3"/>
<circle cx="1031.2" cy="24.1" r="1.4"/>
<circle cx="1053.1" cy="58.2" r="1.6"/>
<circle cx="915" cy="42.5" r="1.1"/>
<circle cx="911.7" cy="128.5" r="1.4"/>
<circle cx="1055.2" cy="68.4" r="1.6"/>
<circle cx="943.5" cy="22.1" r="1.4"/>
<circle cx="1038.3" cy="154.3" r="1.3"/>
<circle cx="910.5" cy="128.4" r="1.7"/>
<circle cx="1028.8" cy="23.6" r="1.5"/>
<circle cx="1050.1" cy="141" r="1.2"/>
<circle cx="927.8" cy="150.8" r="1.6"/>
<circle cx="941.5" cy="21.3" r="1.7"/>
<circle cx="1048.3" cy="68.2" r="1.5"/>
<circle cx="902" cy="105.8" r="1.4"/>
<circle cx="946.2" cy="167.2" r="1.5"/>
<circle cx="1065.7" cy="74.4" r="1.8"/>
<circle cx="912.3" cy="142.9" r="1.6"/>
<circle cx="953.5" cy="7.1" r="1.1"/>
<circle cx="902.1" cy="109.3" r="1.6"/>
<circle cx="997.4" cy="176.1" r="1.2"/>
<circle cx="928.4" cy="145.5" r="1.4"/>
<circle cx="976.2" cy="16.7" r="1.2"/>
<circle cx="930.7" cy="23.5" r="1.6"/>
<circle cx="978.2" cy="175.9" r="1.6"/>
<circle cx="992.2" cy="16.6" r="1.4"/>
<circle cx="1065.6" cy="99" r="1.8"/>
<circle cx="1037" cy="46.7" r="1.3"/>
<circle cx="900.1" cy="72.2" r="1.2"/>
<circle cx="999.2" cy="14.3" r="1.5"/>
<circle cx="1038.5" cy="148.7" r="1.2"/>
<circle cx="1049.4" cy="133.6" r="1.3"/>
<circle cx="993.3" cy="14.1" r="1.4"/>
<circle cx="1052.6" cy="116.3" r="1.4"/>
<circle cx="904.4" cy="61.6" r="1.7"/>
<circle cx="1048.1" cy="142.9" r="1.2"/>
<circle cx="1060.5" cy="75.3" r="1.4"/>
<circle cx="914.5" cy="34.8" r="1.8"/>
<circle cx="919.1" cy="127.3" r="1.2"/>
<circle cx="1015.2" cy="13.7" r="1.6"/>
<circle cx="1025.4" cy="158.7" r="1.1"/>
<circle cx="1040.4" cy="140.6" r="1.8"/>
<circle cx="926.6" cy="23.3" r="1.1"/>
<circle cx="916.2" cy="127.6" r="1.3"/>
<circle cx="1046.1" cy="146.5" r="1.3"/>
<circle cx="896.6" cy="96.3" r="1.7"/>
<circle cx="1057.8" cy="63.3" r="1.5"/>
<circle cx="1045.9" cy="45.1" r="1.3"/>
<circle cx="974.8" cy="12.9" r="1.4"/>
<circle cx="906.7" cy="125.4" r="1.4"/>
<circle cx="906.7" cy="124.7" r="1.1"/>
<circle cx="1017.6" cy="27.6" r="1.5"/>
<circle cx="903.5" cy="66.9" r="1.3"/>
<circle cx="1044.7" cy="137" r="1.3"/>
<circle cx="903.1" cy="98.2" r="1.6"/>
<circle cx="909.2" cy="96.1" r="1.4"/>
<circle cx="1049.3" cy="75.6" r="1.5"/>
<circle cx="1057.2" cy="71.1" r="1.5"/>
<circle cx="926.6" cy="148.1" r="1.5"/>
<circle cx="913.4" cy="48.5" r="1.4"/>
<circle cx="895.7" cy="81.9" r="1.1"/>
<circle cx="1044.8" cy="133.3" r="1.3"/>
<circle cx="1002.8" cy="13.3" r="1.7"/>
<circle cx="916" cy="135.6" r="1.6"/>
<circle cx="1055" cy="135.2" r="1.7"/>
<circle cx="942.8" cy="160" r="1.7"/>
<circle cx="999.9" cy="9.5" r="1.1"/>
<circle cx="986.2" cy="17.9" r="1.5"/>
<circle cx="897.9" cy="62.6" r="1.5"/>
<circle cx="1065.9" cy="102.6" r="1.6"/>
<circle cx="917.9" cy="56.5" r="1.6"/>
<circle cx="906.9" cy="131.7" r="1.8"/>
<circle cx="1043.8" cy="53.7" r="1.6"/>
<circle cx="901.1" cy="121.4" r="1.4"/>
<circle cx="903.7" cy="116.5" r="1.2"/>
<circle cx="944" cy="167" r="1.2"/>
<circle cx="1044" cy="147.5" r="1.6"/>
<circle cx="908.7" cy="68.2" r="1.2"/>
<circle cx="947.9" cy="171.4" r="1.5"/>
<circle cx="1047.9" cy="54.4" r="1.4"/>
<circle cx="896.5" cy="71.1" r="1.2"/>
<circle cx="1036.9" cy="32.6" r="1.1"/>
<circle cx="907.4" cy="123.6" r="1.6"/>
<circle cx="1053.3" cy="55" r="1.6"/>
<circle cx="915.1" cy="145.5" r="1.2"/>
<circle cx="976.3" cy="14.6" r="1.5"/>
<circle cx="1003.5" cy="166.2" r="1.2"/>
<circle cx="931.5" cy="157.5" r="1.5"/>
<circle cx="916.9" cy="143.7" r="1.7"/>
<circle cx="928" cy="154.8" r="1.4"/>
<circle cx="1058.4" cy="80.9" r="1.6"/>
<circle cx="988" cy="167.9" r="1.6"/>
<circle cx="910.7" cy="55.2" r="1.1"/>
<circle cx="1016.1" cy="19.4" r="1.6"/>
<circle cx="904.2" cy="124.6" r="1.5"/>
<circle cx="1065.5" cy="77.4" r="1.4"/>
<circle cx="903" cy="96.9" r="1.6"/>
<circle cx="1042.9" cy="137.6" r="1.7"/>
<circle cx="1062.1" cy="108.9" r="1.5"/>
<circle cx="905.1" cy="65.4" r="1.2"/>
<circle cx="1060.9" cy="64.7" r="1.7"/>
<circle cx="1049.6" cy="139.5" r="1.3"/>
<circle cx="1005.7" cy="168.4" r="1.5"/>
<circle cx="1041.6" cy="148.9" r="1.5"/>
<circle cx="1049.9" cy="39.3" r="1.6"/>
<circle cx="922.9" cy="156.1" r="1.6"/>
<circle cx="958.2" cy="173.6" r="1.6"/>
<circle cx="972.8" cy="167.8" r="1.1"/>
<circle cx="904.4" cy="72.5" r="1.3"/>
<circle cx="978.6" cy="165.7" r="1.4"/>
<circle cx="968.9" cy="168" r="1.3"/>
<circle cx="894" cy="85.5" r="1.2"/>
<circle cx="1034.6" cy="24.2" r="1.5"/>
<circle cx="898.6" cy="67.5" r="1.5"/>
<circle cx="933.6" cy="17.4" r="1.6"/>
<circle cx="975.5" cy="163.4" r="1.8"/>
<circle cx="924.6" cy="155.2" r="1.3"/>
<circle cx="903.8" cy="113.8" r="1.6"/>
<circle cx="1056.6" cy="62.2" r="1.5"/>
<circle cx="935.1" cy="153.4" r="1.8"/>
<circle cx="1046.8" cy="146" r="1.6"/>
<circle cx="1057.8" cy="128.2" r="1.2"/>
<circle cx="911.3" cy="60.6" r="1.8"/>
<circle cx="948.6" cy="170.7" r="1.1"/>
<circle cx="943.1" cy="26.9" r="1.1"/>
<circle cx="901.2" cy="52.9" r="1.6"/>
<circle cx="1032.3" cy="23.3" r="1.5"/>
<circle cx="1052.5" cy="128.7" r="1.2"/>
<circle cx="901.7" cy="77.2" r="1.4"/>
<circle cx="1007.3" cy="170.2" r="1.4"/>
<circle cx="906.5" cy="97" r="1.4"/>
<circle cx="898.4" cy="59.6" r="1.5"/>
<circle cx="1032" cy="149.4" r="1.3"/>
<circle cx="954.2" cy="7.6" r="1.8"/>
<circle cx="1062.5" cy="63.7" r="1.7"/>
<circle cx="1045.8" cy="62" r="1.4"/>
<circle cx="909.3" cy="45.2" r="1.5"/>
<circle cx="914.2" cy="33.9" r="1.2"/>
<circle cx="893.6" cy="80" r="1.1"/>
<circle cx="1045.7" cy="146.1" r="1.8"/>
<circle cx="1051.4" cy="101.4" r="1.7"/>
<circle cx="949.2" cy="14.7" r="1.5"/>
<circle cx="984" cy="5.2" r="1.1"/>
<circle cx="1057.6" cy="125.8" r="1.8"/>
<circle cx="1020.1" cy="21" r="1.3"/>
<circle cx="939.2" cy="149.1" r="1.6"/>
<circle cx="973.6" cy="172.9" r="1.5"/>
<circle cx="937.2" cy="162.5" r="1.4"/>
<circle cx="988.4" cy="176.3" r="1.2"/>
<circle cx="1025.7" cy="153.3" r="1.4"/>
<circle cx="996.6" cy="13.2" r="1.3"/>
<circle cx="936" cy="26.3" r="1.5"/>
<circle cx="977.3" cy="176.6" r="1.2"/>
<circle cx="988.8" cy="168.5" r="1.3"/>
<circle cx="967.6" cy="7.6" r="1.7"/>
<circle cx="908.5" cy="72.1" r="1.6"/>
<circle cx="982.7" cy="167.5" r="1.4"/>
<circle cx="1059.5" cy="85.4" r="1.3"/>
<circle cx="1054.1" cy="44.1" r="1.4"/>
<circle cx="1036.1" cy="154.6" r="1.6"/>
<circle cx="935.2" cy="163" r="1.4"/>
<circle cx="960.9" cy="171.1" r="1.6"/>
</g>
<path d="M1057.1,90 L1058,94 L1058.3,98 L1057.8,102 L1056.4,105.8 L1054.3,109.4 L1051.9,112.7 L1049.4,115.9 L1047.1,119 L1045.1,122.2 L1043.5,125.6 L1042,129.1 L1040.5,132.6 L1038.6,136 L1036.4,139.2 L1033.7,142 L1030.7,144.5 L1027.6,146.8 L1024.5,149 L1021.4,151.4 L1018.4,153.9 L1015.3,156.5 L1012.1,159 L1008.7,161.1 L1004.9,162.6 L1000.9,163.3 L996.8,163.3 L992.7,162.7 L988.7,161.8 L984.8,161 L981,160.5 L977.3,160.4 L973.5,160.7 L969.6,161.1 L965.6,161.5 L961.6,161.4 L957.7,160.8 L953.9,159.6 L950.4,157.9 L946.9,155.9 L943.6,153.9 L940.3,151.9 L936.8,150 L933.4,148 L930,145.9 L926.9,143.4 L924.2,140.5 L922.1,137.1 L920.6,133.3 L919.4,129.4 L918.5,125.6 L917.4,122 L916,118.6 L914.1,115.3 L912,112.1 L909.6,108.9 L907.5,105.4 L905.9,101.7 L904.9,97.9 L904.6,93.9 L904.9,90 L905.6,86.1 L906.4,82.3 L907.2,78.5 L907.8,74.6 L908.4,70.8 L909.3,67 L910.5,63.3 L912.2,59.8 L914.5,56.6 L917.2,53.7 L920.1,51 L922.9,48.4 L925.5,45.7 L927.8,42.7 L929.8,39.5 L931.7,36 L933.7,32.4 L936.1,29 L939,26.2 L942.3,23.9 L946.1,22.3 L950,21.3 L954,20.6 L958,20.1 L961.8,19.4 L965.6,18.6 L969.4,17.7 L973.2,17 L977.1,16.5 L981,16.6 L984.9,17.1 L988.7,18.1 L992.3,19.3 L996,20.5 L999.6,21.3 L1003.4,21.9 L1007.4,22.1 L1011.5,22.4 L1015.7,22.9 L1019.7,23.9 L1023.4,25.6 L1026.6,28.1 L1029.3,31.1 L1031.6,34.5 L1033.6,38.1 L1035.6,41.5 L1037.7,44.7 L1040,47.7 L1042.4,50.6 L1044.8,53.7 L1047,56.8 L1048.7,60.3 L1050,63.9 L1050.9,67.6 L1051.6,71.3 L1052.3,75 L1053.2,78.7 L1054.4,82.4 L1055.8,86.1 Z" fill="url(#agCore)"/>
<g stroke="#1e2238" stroke-width="5" fill="none" opacity="0.7" filter="url(#blur2)">
<path d="M919.7585465739941,50 Q980,28 1043.1833729082246,46"/>
<path d="M915.138393495383,66 Q980,44 1039.989722224541,62"/>
<path d="M918.8039964403374,82 Q980,60 1035.6510645467679,78"/>
<path d="M924.1453043489529,98 Q980,76 1036.434677099261,94"/>
<path d="M917.0558574914814,114 Q980,92 1043.7813327083604,110"/>
<path d="M924.6049001236344,130 Q980,108 1044.3148022382293,126"/>
<path d="M918.4191376074073,146 Q980,124 1044.3073229593238,142"/>
</g>
<g fill="#e6ecf8">
<circle cx="929.4" cy="120.5" r="2.5"/>
<circle cx="936.7" cy="38.3" r="2.3"/>
<circle cx="1036.1" cy="122.2" r="2.5"/>
<circle cx="974.3" cy="71.9" r="1.9"/>
<circle cx="959" cy="26" r="2"/>
<circle cx="984.9" cy="95.7" r="2.2"/>
<circle cx="1018.8" cy="93.8" r="2.5"/>
<circle cx="920" cy="62.9" r="2.3"/>
<circle cx="1042.1" cy="90.5" r="1.9"/>
<circle cx="956.6" cy="99.7" r="2"/>
<circle cx="975.2" cy="104.6" r="2.4"/>
<circle cx="976" cy="46.1" r="2.5"/>
<circle cx="1018.8" cy="75.9" r="1.8"/>
<circle cx="932.4" cy="43.6" r="2.3"/>
<circle cx="940.6" cy="132.5" r="2.1"/>
<circle cx="1003" cy="85" r="1.9"/>
<circle cx="998.1" cy="71.5" r="2.1"/>
<circle cx="998.8" cy="64" r="2"/>
<circle cx="1036.3" cy="101.5" r="2.1"/>
<circle cx="986.8" cy="84.4" r="2"/>
<circle cx="950.6" cy="43.3" r="2.3"/>
<circle cx="942.9" cy="101.9" r="1.9"/>
<circle cx="923" cy="116.6" r="2"/>
<circle cx="989.5" cy="89.6" r="2.4"/>
<circle cx="983" cy="72.8" r="1.8"/>
<circle cx="980.5" cy="57.2" r="2.2"/>
<circle cx="1000" cy="84.6" r="1.9"/>
<circle cx="980.6" cy="87.4" r="2.2"/>
<circle cx="972.8" cy="31" r="2.4"/>
<circle cx="942.8" cy="136.7" r="2.4"/>
<circle cx="945.7" cy="147.2" r="2.2"/>
<circle cx="970.4" cy="97.8" r="2.5"/>
<circle cx="979.5" cy="87.5" r="2"/>
<circle cx="1030.1" cy="90.4" r="2"/>
<circle cx="937.3" cy="49.6" r="2.4"/>
<circle cx="1041.1" cy="116.3" r="2.4"/>
<circle cx="1011.5" cy="134" r="2.4"/>
<circle cx="934.4" cy="134.7" r="2"/>
<circle cx="912.3" cy="91.7" r="2"/>
<circle cx="1023" cy="105.7" r="2.4"/>
<circle cx="1043.3" cy="110.5" r="1.8"/>
<circle cx="1005.1" cy="34.5" r="2.5"/>
<circle cx="1034.5" cy="63.1" r="1.9"/>
<circle cx="1009" cy="126.7" r="2.5"/>
<circle cx="998.7" cy="36.8" r="2.3"/>
<circle cx="1019.7" cy="130.5" r="2.4"/>
<circle cx="991" cy="153" r="2.2"/>
<circle cx="979.8" cy="73.6" r="2"/>
<circle cx="1023.6" cy="51.5" r="2.3"/>
<circle cx="1020.6" cy="117.6" r="2.2"/>
<circle cx="954.5" cy="57.7" r="1.9"/>
<circle cx="1002.3" cy="116.5" r="2.5"/>
<circle cx="956.6" cy="150.6" r="2.4"/>
<circle cx="998.2" cy="155.7" r="2.3"/>
<circle cx="957" cy="58.7" r="2.2"/>
<circle cx="979.3" cy="24" r="2.4"/>
<circle cx="986.1" cy="86.2" r="2.3"/>
<circle cx="945" cy="47.3" r="2.2"/>
<circle cx="943.8" cy="65.5" r="1.8"/>
<circle cx="916.5" cy="69.5" r="2.2"/>
<circle cx="1045.6" cy="109.8" r="2.1"/>
<circle cx="967.6" cy="52.4" r="2.1"/>
<circle cx="971.3" cy="116.4" r="2.3"/>
<circle cx="988.9" cy="110" r="2.5"/>
<circle cx="1039" cy="54.7" r="2.2"/>
<circle cx="936.3" cy="127.8" r="1.8"/>
<circle cx="930.6" cy="97.3" r="2"/>
<circle cx="1012.6" cy="122.2" r="2"/>
<circle cx="1019.4" cy="111" r="2.3"/>
<circle cx="974.8" cy="80.4" r="1.9"/>
<circle cx="977.4" cy="154.6" r="2.4"/>
<circle cx="947.8" cy="117.6" r="2.1"/>
<circle cx="927.4" cy="79.4" r="2.2"/>
<circle cx="1016.2" cy="76.2" r="2.3"/>
<circle cx="1007.1" cy="106.4" r="1.8"/>
<circle cx="1011.3" cy="37.3" r="1.8"/>
<circle cx="919.5" cy="74.5" r="2.1"/>
<circle cx="1031.7" cy="88.1" r="2.2"/>
<circle cx="926.3" cy="62.2" r="2"/>
<circle cx="1033.7" cy="91.3" r="2.1"/>
<circle cx="966.4" cy="145" r="2"/>
<circle cx="1022.9" cy="119.5" r="2.1"/>
<circle cx="961.7" cy="81" r="2.1"/>
<circle cx="954.4" cy="107.6" r="2.1"/>
<circle cx="952.7" cy="128.7" r="2.1"/>
<circle cx="977.2" cy="143.9" r="2.1"/>
<circle cx="963.1" cy="146.5" r="2.5"/>
<circle cx="1022.1" cy="76" r="2.3"/>
<circle cx="1015.7" cy="61.1" r="2.3"/>
<circle cx="1045.8" cy="112.1" r="2.3"/>
<circle cx="971.7" cy="111.8" r="2"/>
<circle cx="1019.9" cy="95.6" r="2.5"/>
<circle cx="958.2" cy="120.1" r="1.8"/>
<circle cx="968.9" cy="127.8" r="2"/>
<circle cx="997.3" cy="50.4" r="2.1"/>
<circle cx="992.9" cy="135.6" r="2.4"/>
<circle cx="965.3" cy="102.8" r="2.3"/>
<circle cx="1018.7" cy="125" r="2.2"/>
<circle cx="945.2" cy="119.1" r="2.2"/>
<circle cx="928.7" cy="129.9" r="2"/>
<circle cx="948.5" cy="99.5" r="2.2"/>
<circle cx="980.3" cy="42.7" r="2.2"/>
<circle cx="1037.7" cy="113.2" r="2"/>
<circle cx="1025.1" cy="78.6" r="1.9"/>
<circle cx="996.2" cy="84.4" r="2.2"/>
<circle cx="1046.3" cy="69.1" r="2.3"/>
<circle cx="919.8" cy="61.7" r="2.3"/>
<circle cx="1008.4" cy="136.6" r="2.1"/>
<circle cx="948.4" cy="69.9" r="2.2"/>
<circle cx="1003.6" cy="40.1" r="2"/>
<circle cx="945" cy="44.3" r="1.9"/>
<circle cx="1015.4" cy="56.5" r="2.1"/>
<circle cx="939.4" cy="118.9" r="2.3"/>
<circle cx="957.5" cy="143.7" r="2"/>
<circle cx="977.2" cy="63.5" r="2.1"/>
<circle cx="1026" cy="99.9" r="2.2"/>
<circle cx="941.1" cy="107" r="1.9"/>
<circle cx="972.4" cy="80.2" r="2.4"/>
<circle cx="1040.8" cy="115.1" r="1.9"/>
<circle cx="960.1" cy="119.3" r="2"/>
<circle cx="941.6" cy="70.7" r="2"/>
<circle cx="1009.2" cy="27.9" r="2.4"/>
<circle cx="987.2" cy="101.8" r="1.9"/>
<circle cx="915.4" cy="69.1" r="2.5"/>
<circle cx="995.4" cy="141.4" r="1.8"/>
<circle cx="1009.4" cy="44" r="2"/>
<circle cx="1005.1" cy="117.8" r="2"/>
<circle cx="976.3" cy="60" r="2.2"/>
<circle cx="960.2" cy="70.1" r="2"/>
<circle cx="951.1" cy="56.1" r="1.8"/>
<circle cx="953.7" cy="103.1" r="2"/>
<circle cx="976.5" cy="91.7" r="2"/>
<circle cx="1036.7" cy="126.1" r="2.2"/>
<circle cx="1004" cy="117.3" r="2.2"/>
<circle cx="968.5" cy="74.4" r="2.2"/>
<circle cx="976.5" cy="94.1" r="2.2"/>
<circle cx="1023.7" cy="107.1" r="2"/>
<circle cx="1029.4" cy="116.1" r="2.3"/>
<circle cx="1016.2" cy="83.6" r="2.1"/>
<circle cx="988.6" cy="144" r="2.5"/>
<circle cx="1048.8" cy="96.2" r="2.2"/>
<circle cx="953.6" cy="141.4" r="2.2"/>
<circle cx="930.3" cy="74.3" r="2.2"/>
<circle cx="924.9" cy="98.9" r="2.5"/>
<circle cx="971.7" cy="127.3" r="2.2"/>
<circle cx="992.9" cy="43.6" r="2.1"/>
<circle cx="1038.7" cy="114.7" r="2"/>
<circle cx="973.4" cy="96.2" r="2"/>
<circle cx="992.2" cy="108.7" r="1.8"/>
<circle cx="940.7" cy="112.3" r="2"/>
</g>
<text x="978.6" y="201.4" font-size="17.5" text-anchor="middle" font-weight="normal" fill="#1a1a1a" >Fe<tspan font-size="70%" dy="0.25em">3</tspan><tspan dy="-0.25em">​</tspan>O<tspan font-size="70%" dy="0.25em">4</tspan><tspan dy="-0.25em">​</tspan>@PDA@Ag</text>
<text x="1.5" y="239" font-size="23" text-anchor="start" font-weight="bold" fill="#000" >B</text>
<clipPath id="clipB00"><rect x="23" y="220" width="216" height="224.5"/></clipPath>
<clipPath id="clipB01"><rect x="23" y="449" width="216" height="223.8"/></clipPath>
<clipPath id="clipB10"><rect x="245" y="220" width="216" height="224.5"/></clipPath>
<clipPath id="clipB11"><rect x="245" y="449" width="216" height="223.8"/></clipPath>
<clipPath id="clipB20"><rect x="466" y="220" width="216" height="224.5"/></clipPath>
<clipPath id="clipB21"><rect x="466" y="449" width="216" height="223.8"/></clipPath>
<g clip-path="url(#clipB00)">
<g filter="url(#grainT)">
<rect x="23" y="220" width="216" height="224.5" fill="url(#temBg)"/>
<g stroke="#cfcfcf" stroke-width="0.7" fill="none" opacity="0.8"><path d="M160,220 Q200,240 239,262"/><path d="M23,400 Q60,380 80,420 T110,444"/><path d="M190,444 Q215,410 239,398"/></g>
<circle cx="131" cy="333" r="85" fill="#f0f0f0" opacity="0.35" filter="url(#blur3)"/>
<g filter="url(#blur15)">
<circle cx="78.5" cy="258.9" r="10" fill="#555"/>
<circle cx="94.5" cy="253.5" r="9" fill="#5c5c5c"/>
<circle cx="113.7" cy="249.9" r="8" fill="#626262"/>
<circle cx="131.9" cy="245.5" r="11" fill="#4e4e4e"/>
<circle cx="145" cy="245.4" r="10" fill="#555"/>
<circle cx="156.6" cy="254.7" r="8" fill="#5c5c5c"/>
<circle cx="178.1" cy="260" r="9" fill="#626262"/>
<circle cx="200.6" cy="279.8" r="12" fill="#4e4e4e"/>
<circle cx="204.4" cy="292.5" r="10" fill="#555"/>
<circle cx="217" cy="322" r="9" fill="#5c5c5c"/>
<circle cx="218.4" cy="333.7" r="10" fill="#626262"/>
<circle cx="211.1" cy="357.1" r="8" fill="#4e4e4e"/>
<circle cx="204.4" cy="375.5" r="8" fill="#555"/>
<circle cx="194.7" cy="385.1" r="6" fill="#5c5c5c"/>
<circle cx="160" cy="415.6" r="6" fill="#626262"/>
<circle cx="136.5" cy="422.6" r="8" fill="#4e4e4e"/>
<circle cx="115.5" cy="417.8" r="8" fill="#555"/>
<circle cx="101.5" cy="405.9" r="9" fill="#5c5c5c"/>
<circle cx="85.1" cy="403.8" r="7" fill="#626262"/>
<circle cx="71.1" cy="392.1" r="9" fill="#4e4e4e"/>
<circle cx="54.7" cy="368.7" r="6" fill="#555"/>
<circle cx="50.1" cy="354.7" r="7" fill="#5c5c5c"/>
<circle cx="49" cy="345.4" r="6" fill="#626262"/>
<circle cx="41.7" cy="338.3" r="8" fill="#4e4e4e"/>
<circle cx="44.1" cy="319.7" r="8" fill="#555"/>
<circle cx="46.5" cy="312.7" r="7" fill="#5c5c5c"/>
<circle cx="50" cy="301.1" r="7" fill="#626262"/>
<circle cx="55.7" cy="284.6" r="9" fill="#4e4e4e"/>
<circle cx="52.3" cy="292.8" r="7" fill="#555"/>
<circle cx="120.7" cy="249" r="7" fill="#5c5c5c"/>
<circle cx="167.5" cy="252.5" r="6" fill="#626262"/>
<circle cx="62.4" cy="383.2" r="7" fill="#4e4e4e"/>
<circle cx="187.1" cy="399.7" r="7" fill="#555"/>
<circle cx="210.2" cy="301.1" r="7" fill="#5c5c5c"/>
</g>
<circle cx="131" cy="332" r="80.5" fill="url(#temCore)" filter="url(#blur2)"/>
<g fill="#4a4a4a" opacity="0.5" filter="url(#blur4)">
<circle cx="95" cy="270" r="14"/>
<circle cx="150" cy="262" r="12"/>
<circle cx="180" cy="300" r="12"/>
<circle cx="70" cy="320" r="12"/>
<circle cx="75" cy="370" r="14"/>
<circle cx="120" cy="395" r="14"/>
<circle cx="170" cy="380" r="12"/>
<circle cx="190" cy="340" r="10"/>
<circle cx="110" cy="300" r="10"/>
<circle cx="160" cy="325" r="10"/>
</g>
</g>
</g>
<g transform="translate(205.8,432.8) scale(1.03,1)"><text x="0" y="0" font-size="11.5" text-anchor="middle" font-weight="normal" fill="#000" >200 nm</text></g>
<rect x="188" y="435.3" width="37" height="5" fill="#000"/>
<rect x="245" y="220" width="216" height="224.5" fill="#000"/>
<g clip-path="url(#clipB10)">
<ellipse cx="356.8" cy="337.4" rx="69.5" ry="77.5" fill="#c20404" filter="url(#blur3)" transform="rotate(-8 356.8 337.4)"/>
<ellipse cx="354" cy="338.5" rx="20" ry="24" fill="#6a0000" opacity="0.75" filter="url(#blur7)"/>
</g>
<g transform="translate(249.5,241.6) scale(1.05,1)"><text x="0" y="0" font-size="19.5" text-anchor="start" font-weight="normal" fill="#fff" >Fe</text></g>
<rect x="466" y="220" width="216" height="224.5" fill="#000"/>
<g clip-path="url(#clipB20)">
<g filter="url(#grain)"><rect x="466" y="220" width="216" height="224.5" fill="#000"/><ellipse cx="577.2" cy="336.7" rx="71.5" ry="79.5" fill="#20c420" filter="url(#blur3)" transform="rotate(-8 577.2 336.7)"/></g>
<ellipse cx="577.3" cy="338.5" rx="20" ry="23" fill="#0a5a0a" opacity="0.55" filter="url(#blur7)"/>
</g>
<text x="469" y="241.8" font-size="19.5" text-anchor="start" font-weight="normal" fill="#fff" >O</text>
<rect x="23" y="449" width="216" height="223.8" fill="#000"/>
<g clip-path="url(#clipB01)">
<rect x="23" y="449" width="216" height="224" fill="#fff" filter="url(#speckW)" opacity="0.5"/>
<path d="M228.3,561 L229,564.2 L228.7,567.4 L227.4,570.5 L225.1,573.4 L222.3,576 L219.5,578.5 L217.1,581 L215.6,583.5 L215,586.3 L215.1,589.4 L215.6,592.7 L215.8,596.1 L215.5,599.3 L214.3,602.1 L212.3,604.5 L209.8,606.5 L207,608.2 L204.4,609.9 L202.1,611.9 L200.4,614.2 L199.1,616.9 L197.9,619.8 L196.6,622.7 L195,625.4 L193.1,627.9 L190.9,630 L188.5,631.9 L186.2,633.9 L183.9,636.1 L181.7,638.4 L179.4,640.7 L176.9,642.7 L174,644.1 L170.8,644.6 L167.2,644 L163.5,642.5 L159.9,640.7 L156.4,639 L153.3,637.9 L150.6,637.9 L148,639.1 L145.4,641.3 L142.8,643.9 L140,646.6 L137,648.6 L133.9,649.8 L130.8,650.1 L127.7,649.6 L124.7,648.7 L121.7,647.6 L118.8,646.8 L115.8,646.1 L112.8,645.6 L109.8,644.8 L106.9,643.7 L104.2,642.1 L101.8,640.1 L99.5,637.9 L97.3,635.7 L94.9,633.9 L92.3,632.5 L89.5,631.5 L86.4,630.7 L83.4,629.7 L80.6,628.2 L78.5,626 L77,623.1 L76.1,619.8 L75.6,616.3 L75,613.1 L73.9,610.3 L72,608.3 L69.2,606.7 L65.7,605.5 L62,604.3 L58.3,602.8 L55.3,600.8 L53.1,598.3 L51.8,595.4 L51.3,592.2 L51.3,588.9 L51.4,585.6 L51.5,582.3 L51.5,579.2 L51.6,576.1 L51.9,573 L52.6,569.9 L53.6,566.8 L55,563.9 L56.3,561 L57.1,558.2 L57.1,555.4 L56.3,552.5 L54.8,549.4 L52.9,546.2 L51.2,542.8 L50.2,539.4 L50.2,536.1 L51.4,533.2 L53.5,530.6 L56.1,528.3 L58.7,526.1 L60.9,523.9 L62.5,521.4 L63.4,518.5 L63.9,515.3 L64.4,512 L65.2,508.8 L66.6,506 L68.7,503.7 L71.3,501.8 L74.2,500.3 L77.1,499 L79.9,497.6 L82.5,496.1 L85,494.4 L87.4,492.8 L90,491.3 L92.8,490.2 L95.7,489.4 L98.6,488.9 L101.5,488.2 L104,487 L106.3,485.1 L108.4,482.3 L110.3,479 L112.4,475.4 L114.8,472.1 L117.6,469.7 L120.7,468.5 L124,468.8 L127.5,470.2 L130.8,472.4 L134,474.7 L137,476.6 L139.9,477.9 L142.8,478.5 L145.7,478.5 L148.6,478.3 L151.6,478.3 L154.5,478.5 L157.4,479.2 L160.2,480.2 L162.9,481.2 L165.7,482.1 L168.7,482.7 L171.7,483 L174.9,483.3 L178,483.8 L180.9,484.9 L183.5,486.6 L185.6,488.9 L187.5,491.5 L189.3,494.1 L191.2,496.4 L193.6,498.2 L196.5,499.4 L199.9,500.3 L203.4,501.2 L206.7,502.5 L209.4,504.4 L211.1,507.2 L211.8,510.6 L211.6,514.4 L210.9,518.3 L210.2,522.1 L209.9,525.4 L210.2,528.4 L211.3,531 L212.9,533.4 L214.8,535.7 L216.7,538.1 L218.3,540.7 L219.7,543.4 L220.9,546.2 L222.2,549 L223.6,551.9 L225.2,554.8 L226.9,557.9 Z" fill="#30320a" filter="url(#blur3)"/>
<path d="M228.3,561 L229,564.2 L228.7,567.4 L227.4,570.5 L225.1,573.4 L222.3,576 L219.5,578.5 L217.1,581 L215.6,583.5 L215,586.3 L215.1,589.4 L215.6,592.7 L215.8,596.1 L215.5,599.3 L214.3,602.1 L212.3,604.5 L209.8,606.5 L207,608.2 L204.4,609.9 L202.1,611.9 L200.4,614.2 L199.1,616.9 L197.9,619.8 L196.6,622.7 L195,625.4 L193.1,627.9 L190.9,630 L188.5,631.9 L186.2,633.9 L183.9,636.1 L181.7,638.4 L179.4,640.7 L176.9,642.7 L174,644.1 L170.8,644.6 L167.2,644 L163.5,642.5 L159.9,640.7 L156.4,639 L153.3,637.9 L150.6,637.9 L148,639.1 L145.4,641.3 L142.8,643.9 L140,646.6 L137,648.6 L133.9,649.8 L130.8,650.1 L127.7,649.6 L124.7,648.7 L121.7,647.6 L118.8,646.8 L115.8,646.1 L112.8,645.6 L109.8,644.8 L106.9,643.7 L104.2,642.1 L101.8,640.1 L99.5,637.9 L97.3,635.7 L94.9,633.9 L92.3,632.5 L89.5,631.5 L86.4,630.7 L83.4,629.7 L80.6,628.2 L78.5,626 L77,623.1 L76.1,619.8 L75.6,616.3 L75,613.1 L73.9,610.3 L72,608.3 L69.2,606.7 L65.7,605.5 L62,604.3 L58.3,602.8 L55.3,600.8 L53.1,598.3 L51.8,595.4 L51.3,592.2 L51.3,588.9 L51.4,585.6 L51.5,582.3 L51.5,579.2 L51.6,576.1 L51.9,573 L52.6,569.9 L53.6,566.8 L55,563.9 L56.3,561 L57.1,558.2 L57.1,555.4 L56.3,552.5 L54.8,549.4 L52.9,546.2 L51.2,542.8 L50.2,539.4 L50.2,536.1 L51.4,533.2 L53.5,530.6 L56.1,528.3 L58.7,526.1 L60.9,523.9 L62.5,521.4 L63.4,518.5 L63.9,515.3 L64.4,512 L65.2,508.8 L66.6,506 L68.7,503.7 L71.3,501.8 L74.2,500.3 L77.1,499 L79.9,497.6 L82.5,496.1 L85,494.4 L87.4,492.8 L90,491.3 L92.8,490.2 L95.7,489.4 L98.6,488.9 L101.5,488.2 L104,487 L106.3,485.1 L108.4,482.3 L110.3,479 L112.4,475.4 L114.8,472.1 L117.6,469.7 L120.7,468.5 L124,468.8 L127.5,470.2 L130.8,472.4 L134,474.7 L137,476.6 L139.9,477.9 L142.8,478.5 L145.7,478.5 L148.6,478.3 L151.6,478.3 L154.5,478.5 L157.4,479.2 L160.2,480.2 L162.9,481.2 L165.7,482.1 L168.7,482.7 L171.7,483 L174.9,483.3 L178,483.8 L180.9,484.9 L183.5,486.6 L185.6,488.9 L187.5,491.5 L189.3,494.1 L191.2,496.4 L193.6,498.2 L196.5,499.4 L199.9,500.3 L203.4,501.2 L206.7,502.5 L209.4,504.4 L211.1,507.2 L211.8,510.6 L211.6,514.4 L210.9,518.3 L210.2,522.1 L209.9,525.4 L210.2,528.4 L211.3,531 L212.9,533.4 L214.8,535.7 L216.7,538.1 L218.3,540.7 L219.7,543.4 L220.9,546.2 L222.2,549 L223.6,551.9 L225.2,554.8 L226.9,557.9 Z" fill="#fff" filter="url(#speckY)" opacity="0.78"/>
</g>
<text x="29.3" y="470.4" font-size="19.5" text-anchor="start" font-weight="normal" fill="#fff" >N</text>
<rect x="245" y="449" width="216" height="223.8" fill="#000"/>
<g clip-path="url(#clipB11)">
<g filter="url(#grain)">
<rect x="245" y="449" width="216" height="224" fill="#000"/>
<circle cx="355" cy="562" r="74" fill="#0d4444" opacity="0.4" filter="url(#blur7)"/>
<circle cx="352" cy="560" r="44" fill="#000" opacity="0.45" filter="url(#blur7)"/>
<g fill="#20a8a8" filter="url(#blur3)">
<circle cx="298.4" cy="487" r="9"/>
<circle cx="309" cy="484" r="8"/>
<circle cx="320" cy="487" r="7"/>
<circle cx="359" cy="479" r="11"/>
<circle cx="372" cy="474" r="8"/>
<circle cx="350" cy="484" r="6"/>
<circle cx="340" cy="491" r="6"/>
<circle cx="385" cy="492" r="6"/>
<circle cx="400" cy="491" r="8"/>
<circle cx="412" cy="505" r="7"/>
<circle cx="417.7" cy="515" r="12"/>
<circle cx="427.8" cy="525" r="10"/>
<circle cx="424" cy="540" r="6"/>
<circle cx="438" cy="561.8" r="11"/>
<circle cx="432" cy="575" r="7"/>
<circle cx="433" cy="591" r="8"/>
<circle cx="425.3" cy="606" r="8"/>
<circle cx="408.8" cy="607.4" r="8"/>
<circle cx="394.8" cy="605" r="7"/>
<circle cx="382" cy="634" r="6"/>
<circle cx="363" cy="650.6" r="7"/>
<circle cx="341.5" cy="645.5" r="6"/>
<circle cx="326.3" cy="635.4" r="9"/>
<circle cx="313.6" cy="625" r="8"/>
<circle cx="299.6" cy="620" r="7"/>
<circle cx="303.5" cy="603" r="6"/>
<circle cx="355.5" cy="607.4" r="6"/>
<circle cx="377" cy="589.7" r="4"/>
<circle cx="290.8" cy="590" r="7"/>
<circle cx="280.6" cy="577" r="6"/>
<circle cx="273" cy="566.8" r="7"/>
<circle cx="274.3" cy="545" r="9"/>
<circle cx="277" cy="530" r="6"/>
<circle cx="282" cy="520" r="7"/>
<circle cx="292" cy="510" r="6"/>
<circle cx="297" cy="540" r="6"/>
<circle cx="302" cy="574.4" r="5"/>
<circle cx="306" cy="500" r="5"/>
</g>
<circle cx="357" cy="565.6" r="27" fill="#2cc0c0" filter="url(#blur4)"/>
</g>
</g>
<g transform="translate(248.8,470.4) scale(1.05,1)"><text x="0" y="0" font-size="19.5" text-anchor="start" font-weight="normal" fill="#fff" >Ag</text></g>
<rect x="466" y="449" width="216" height="223.8" fill="#000"/>
<g clip-path="url(#clipB21)">
<rect x="466" y="449" width="216" height="224" fill="#fff" filter="url(#speckW)" opacity="0.5"/>
<g filter="url(#grain)">
<rect x="466" y="449" width="216" height="224" fill="#000" opacity="0"/>
<g fill="#36d6a8" filter="url(#blur2)">
<circle cx="528.1" cy="490" r="13"/>
<circle cx="542.5" cy="486.2" r="10"/>
<circle cx="583.8" cy="477.6" r="11"/>
<circle cx="594.3" cy="476.6" r="9"/>
<circle cx="620.2" cy="492" r="10"/>
<circle cx="640.4" cy="514" r="13"/>
<circle cx="646.2" cy="525.6" r="11"/>
<circle cx="657.2" cy="562" r="14"/>
<circle cx="653.8" cy="588.9" r="10"/>
<circle cx="645.2" cy="608.1" r="10"/>
<circle cx="630.8" cy="620.6" r="9"/>
<circle cx="605.8" cy="635" r="9"/>
<circle cx="583.8" cy="647.1" r="11"/>
<circle cx="562.2" cy="639.8" r="10"/>
<circle cx="545.4" cy="630.2" r="11"/>
<circle cx="528.1" cy="620.6" r="10"/>
<circle cx="520.4" cy="610" r="9"/>
<circle cx="501.2" cy="586" r="9"/>
<circle cx="495.4" cy="566.8" r="11"/>
<circle cx="497.4" cy="546.7" r="10"/>
<circle cx="503.7" cy="527.5" r="10"/>
<circle cx="508.9" cy="517.9" r="10"/>
<circle cx="560.7" cy="481.4" r="8"/>
<circle cx="610.6" cy="483.3" r="7"/>
</g>
<path d="M659,563 L660.1,567.3 L659.9,571.6 L658.4,575.7 L656.2,579.6 L654,583.4 L652.1,587.1 L650.5,590.8 L649.1,594.7 L647.5,598.4 L645.5,602 L643.2,605.3 L640.8,608.6 L638.6,612.1 L636.7,615.9 L634.9,619.9 L632.7,623.7 L629.9,627 L626.2,629.3 L621.8,630.5 L617.2,630.8 L612.6,631 L608.6,631.7 L605,633.3 L601.7,635.8 L598.3,638.8 L594.7,641.6 L590.7,643.5 L586.5,644.2 L582.2,644 L578,643.1 L573.8,642.2 L569.8,641.4 L565.7,640.8 L561.7,639.9 L557.7,638.6 L554,636.9 L550.4,634.9 L546.8,633 L543,631.7 L538.8,630.9 L534.3,630.3 L529.9,629.3 L525.9,627.4 L522.8,624.3 L520.7,620.3 L519.4,615.7 L518.4,611.3 L516.9,607.4 L514.7,604.1 L511.7,601.3 L508.4,598.5 L505.2,595.4 L502.7,591.9 L501.1,588 L500.2,583.8 L499.7,579.7 L499.1,575.5 L498.6,571.3 L498.3,567.2 L498.5,563 L499.4,558.9 L500.9,554.9 L502.5,551 L503.8,547.2 L504.3,543.2 L504,539 L503.4,534.4 L503.2,529.7 L504.1,525.4 L506.4,521.6 L509.8,518.7 L513.9,516.4 L517.9,514.4 L521.4,512.1 L524.3,509.3 L526.6,506 L529,502.4 L531.6,499.1 L534.6,496.2 L538.1,493.9 L541.8,491.9 L545.5,490 L549.3,488.1 L553.1,486.3 L557.1,484.9 L561.3,484.3 L565.6,484.7 L569.9,485.8 L574,487 L578,487.7 L582,487.4 L586.1,486.2 L590.4,484.5 L594.9,483.3 L599.4,483.1 L603.5,484.4 L607.2,486.9 L610.4,490.2 L613.4,493.5 L616.5,496.4 L619.8,498.7 L623.4,500.6 L627,502.5 L630.5,504.7 L633.6,507.4 L636.5,510.3 L639.3,513.3 L642.3,516.3 L645.4,519.2 L648.4,522.3 L650.8,525.9 L652.3,529.9 L652.6,534.4 L652.1,538.9 L651.5,543.3 L651.5,547.4 L652.4,551.2 L654.4,555 L656.9,558.9 Z" fill="url(#mG)" filter="url(#blur2)"/>
<g fill="#5ee0a0" opacity="0.55" filter="url(#blur3)">
<circle cx="531.2" cy="494.6" r="9.6"/>
<circle cx="583.4" cy="482.9" r="8"/>
<circle cx="617.6" cy="496.4" r="7.2"/>
<circle cx="641.9" cy="527.9" r="8"/>
<circle cx="649.1" cy="587.3" r="7.2"/>
<circle cx="627.5" cy="617" r="6.4"/>
<circle cx="583.4" cy="641.8" r="8"/>
<circle cx="547.4" cy="626" r="8"/>
<circle cx="524" cy="607.1" r="6.4"/>
<circle cx="500.6" cy="566.6" r="8"/>
<circle cx="508.3" cy="529.7" r="7.2"/>
<circle cx="561.8" cy="486.5" r="5.6"/>
</g>
</g>
</g>
<g transform="translate(471,470.4) scale(1.1,1)"><text x="0" y="0" font-size="19.5" text-anchor="start" font-weight="normal" fill="#fff" >Merge</text></g>
<text x="687" y="239" font-size="23" text-anchor="start" font-weight="bold" fill="#000" >C</text>
<g>
<rect x="833.6" y="316" width="22" height="88" fill="#b6ece8"/>
<rect x="970" y="316" width="10.5" height="88" fill="#b6ece8"/>
<rect x="991" y="316" width="11" height="88" fill="#b6ece8"/>
</g>
<clipPath id="clipC"><rect x="739" y="221.5" width="329.79999999999995" height="182.5"/></clipPath>
<g clip-path="url(#clipC)" fill="none" stroke-width="2" stroke-linejoin="round">
<path d="M739.5,252.9 C741.2,254 746.6,257.4 750,259.5 C753.4,261.6 756.7,263.6 760,265.5 C763.3,267.4 767.5,268.9 770,271 C772.5,273.1 773.2,275.3 775,278 C776.8,280.7 778.8,283.8 781,287 C783.2,290.2 785.7,294.8 788,297.5 C790.3,300.2 792.8,302.8 795,303.5 C797.2,304.2 798.5,302.4 801,301.5 C803.5,300.6 806.8,299.2 810,298 C813.2,296.8 816,295.4 820,294 C824,292.6 829.8,291 834,289.8 C838.2,288.6 841.8,287.7 845,287 C848.2,286.3 848.8,286.9 853,285.6 C857.2,284.3 863.8,281.4 870,279 C876.2,276.6 884.2,273.2 890,271 C895.8,268.8 900,267.3 905,265.6 C910,263.9 915,262.5 920,261 C925,259.5 930.3,257.8 935,256.5 C939.7,255.2 945,253.5 948,253 C951,252.5 951.3,252.7 953,253.5 C954.7,254.3 956.6,256.4 958,258 C959.4,259.6 960.3,262.8 961.5,263 C962.7,263.2 963.8,260.3 965,259 C966.2,257.7 967.4,256.1 969,255 C970.6,253.9 973,252.5 974.8,252.5 C976.6,252.5 978.4,254.4 980,255 C981.6,255.6 982.5,255.9 984.2,256 C985.9,256.1 987.5,255.3 990,255.5 C992.5,255.7 996.3,256.1 999,257 C1001.7,257.9 1003.5,259 1006,261 C1008.5,263 1011.4,267.2 1013.7,269 C1016,270.8 1017.3,270.1 1020,271.9 C1022.7,273.7 1027.2,277.2 1030,280 C1032.8,282.8 1034.5,285 1037,288.7 C1039.5,292.4 1042.6,296.8 1045,302 C1047.4,307.2 1049.8,314.5 1051.6,320 C1053.4,325.5 1054.5,330.7 1056,335 C1057.5,339.3 1059.3,345.9 1060.5,345.6 C1061.7,345.3 1062.2,338.6 1063,333 C1063.8,327.4 1064.4,317.5 1065,312 C1065.6,306.5 1066,301.8 1066.5,300 C1067,298.2 1068,300.8 1068.3,301" stroke="#2b9ed6"/>
<path d="M739.5,328.8 C742.1,329.7 750.2,332.3 755,334 C759.8,335.7 765.2,337.8 768,339 C770.8,340.2 770.5,340.2 772,341.5 C773.5,342.8 774.8,343.9 777,347 C779.2,350.1 781.9,355.7 785,360 C788.1,364.3 792.4,371.5 795.7,373 C799,374.5 801,370.5 805,369 C809,367.5 815.2,365.4 820,364 C824.8,362.6 829,361.9 834,360.4 C839,358.9 844,356.9 850,355 C856,353.1 863.3,351 870,349 C876.7,347 884.2,344.6 890,343 C895.8,341.4 898.3,341 905,339.3 C911.7,337.6 922.7,334.9 930,333 C937.3,331.1 944.8,328.1 949,327.7 C953.2,327.3 953.5,328.8 955,330.5 C956.5,332.2 956.8,335.5 958,338 C959.2,340.5 960.8,344.9 962.1,345.6 C963.4,346.3 964.8,343.1 966,342 C967.2,340.9 967.2,340 969.5,339.2 C971.8,338.4 975.8,337.9 980,337 C984.2,336.1 990.6,335.2 994.8,334 C999,332.8 1001.9,330.7 1005.3,329.8 C1008.7,328.9 1011.9,328.7 1015,328.5 C1018.1,328.3 1020.9,328.2 1024.2,328.7 C1027.5,329.2 1031.8,330.1 1035,331.5 C1038.2,332.9 1040.7,333.4 1043.2,337.1 C1045.7,340.9 1048,348.4 1050,354 C1052,359.6 1053.4,366.3 1055,371 C1056.6,375.7 1058.1,382.9 1059.5,382.4 C1060.9,381.9 1062.2,374.7 1063.5,368 C1064.8,361.3 1066.8,346.3 1067.5,342" stroke="#d4519a"/>
</g>
<g style="mix-blend-mode:multiply">
<rect x="789" y="222" width="11.5" height="182" fill="#f9f5a8"/>
<rect x="955.2" y="222" width="12.2" height="182" fill="#f9f5a8"/>
<rect x="1052" y="222" width="15.8" height="182" fill="#f9f5a8"/>
</g>
<text transform="translate(800.2,280.8) rotate(-90) scale(1.0,1)" x="0" y="0" font-size="14" text-anchor="middle" fill="#333">3421</text>
<text transform="translate(966.3,283.5) rotate(-90) scale(1.0,1)" x="0" y="0" font-size="14" text-anchor="middle" fill="#333">1633</text>
<text transform="translate(1063.6,283) rotate(-90) scale(1.0,1)" x="0" y="0" font-size="14" text-anchor="middle" fill="#333">584</text>
<text transform="translate(843.8,385.5) rotate(-90) scale(1.0,1)" x="0" y="0" font-size="14" text-anchor="middle" fill="#222">2917</text>
<text transform="translate(856,385.5) rotate(-90) scale(1.0,1)" x="0" y="0" font-size="14" text-anchor="middle" fill="#222">2850</text>
<text transform="translate(980.5,383.4) rotate(-90) scale(1.0,1)" x="0" y="0" font-size="14" text-anchor="middle" fill="#222">1490</text>
<text transform="translate(1001.5,383.4) rotate(-90) scale(1.0,1)" x="0" y="0" font-size="14" text-anchor="middle" fill="#222">1280</text>
<line x1="743.4" y1="230.2" x2="774" y2="230.2" stroke="#2b9ed6" stroke-width="2"/>
<line x1="743.4" y1="252.5" x2="774" y2="252.5" stroke="#d4519a" stroke-width="2"/>
<text x="783" y="236" font-size="14" text-anchor="start" font-weight="normal" fill="#222" >Fe<tspan font-size="70%" dy="0.25em">3</tspan><tspan dy="-0.25em">​</tspan>O<tspan font-size="70%" dy="0.25em">4</tspan><tspan dy="-0.25em">​</tspan></text>
<text x="783" y="258.4" font-size="14" text-anchor="start" font-weight="normal" fill="#222" >Fe<tspan font-size="70%" dy="0.25em">3</tspan><tspan dy="-0.25em">​</tspan>O<tspan font-size="70%" dy="0.25em">4</tspan><tspan dy="-0.25em">​</tspan>@PDA</text>
<rect x="739" y="221.5" width="329.79999999999995" height="182.5" fill="none" stroke="#111" stroke-width="1.8"/>
<g stroke="#111" stroke-width="1.6">
<line x1="739" y1="404" x2="739" y2="409"/>
<line x1="762.6" y1="404" x2="762.6" y2="407.2"/>
<line x1="786.1" y1="404" x2="786.1" y2="409"/>
<line x1="809.7" y1="404" x2="809.7" y2="407.2"/>
<line x1="833.2" y1="404" x2="833.2" y2="409"/>
<line x1="856.8" y1="404" x2="856.8" y2="407.2"/>
<line x1="880.3" y1="404" x2="880.3" y2="409"/>
<line x1="903.9" y1="404" x2="903.9" y2="407.2"/>
<line x1="927.4" y1="404" x2="927.4" y2="409"/>
<line x1="951" y1="404" x2="951" y2="407.2"/>
<line x1="974.5" y1="404" x2="974.5" y2="409"/>
<line x1="998.1" y1="404" x2="998.1" y2="407.2"/>
<line x1="1021.7" y1="404" x2="1021.7" y2="409"/>
<line x1="1045.2" y1="404" x2="1045.2" y2="407.2"/>
<line x1="1068.8" y1="404" x2="1068.8" y2="409"/>
</g>
<g transform="translate(739,426.7) scale(1.08,1)"><text x="0" y="0" font-size="13.3" text-anchor="middle" font-weight="normal" fill="#1a1a1a" >4000</text></g>
<g transform="translate(786.1,426.7) scale(1.08,1)"><text x="0" y="0" font-size="13.3" text-anchor="middle" font-weight="normal" fill="#1a1a1a" >3500</text></g>
<g transform="translate(833.2,426.7) scale(1.08,1)"><text x="0" y="0" font-size="13.3" text-anchor="middle" font-weight="normal" fill="#1a1a1a" >3000</text></g>
<g transform="translate(880.3,426.7) scale(1.08,1)"><text x="0" y="0" font-size="13.3" text-anchor="middle" font-weight="normal" fill="#1a1a1a" >2500</text></g>
<g transform="translate(927.4,426.7) scale(1.08,1)"><text x="0" y="0" font-size="13.3" text-anchor="middle" font-weight="normal" fill="#1a1a1a" >2000</text></g>
<g transform="translate(974.5,426.7) scale(1.08,1)"><text x="0" y="0" font-size="13.3" text-anchor="middle" font-weight="normal" fill="#1a1a1a" >1500</text></g>
<g transform="translate(1021.7,426.7) scale(1.08,1)"><text x="0" y="0" font-size="13.3" text-anchor="middle" font-weight="normal" fill="#1a1a1a" >1000</text></g>
<g transform="translate(1068.8,426.7) scale(1.08,1)"><text x="0" y="0" font-size="13.3" text-anchor="middle" font-weight="normal" fill="#1a1a1a" >500</text></g>
<g transform="translate(904.5,446) scale(0.99,1)"><text x="0" y="0" font-size="16.5" text-anchor="middle" font-weight="normal" fill="#1a1a1a" >Wavenumber (cm<tspan font-size="70%" dy="-0.38em">−1</tspan><tspan dy="0.38em">​</tspan>)</text></g>
<text transform="translate(726.8,312) rotate(-90) scale(1.0,1)" x="0" y="0" font-size="16.2" text-anchor="middle" fill="#1a1a1a">Transmittance (arb. units)</text>
<text x="688.5" y="463" font-size="23" text-anchor="start" font-weight="bold" fill="#000" >D</text>
<clipPath id="clipD"><rect x="739.2" y="460" width="329.0999999999999" height="182.5"/></clipPath>
<g clip-path="url(#clipD)" fill="none" stroke-width="1.7" stroke-linejoin="round">
<path d="M739.2,567.3 L739.7,567.9 L740.1,568.2 L740.6,567.7 L741.1,567.8 L741.6,567.7 L742,567.9 L742.5,568.2 L743,567.6 L743.4,567.1 L743.9,567.8 L744.4,567.7 L744.8,568.1 L745.3,567.4 L745.8,567.5 L746.3,567.9 L746.7,567.5 L747.2,568.2 L747.7,568.5 L748.1,567.7 L748.6,567.2 L749.1,567.5 L749.5,568.1 L750,567.9 L750.5,567.5 L751,567.5 L751.4,567.1 L751.9,567 L752.4,567.3 L752.8,567.5 L753.3,567.3 L753.8,567.2 L754.2,567.1 L754.7,567.3 L755.2,567.3 L755.7,566.9 L756.1,567.7 L756.6,567.8 L757.1,568 L757.5,567.5 L758,568.2 L758.5,568.5 L758.9,567.8 L759.4,567.6 L759.9,568 L760.4,568.2 L760.8,568.6 L761.3,568.2 L761.8,568.4 L762.2,568.4 L762.7,567.9 L763.2,568 L763.6,568.4 L764.1,568.6 L764.6,568.3 L765.1,568.2 L765.5,567.5 L766,567.3 L766.5,567.9 L766.9,567.8 L767.4,567.4 L767.9,567.6 L768.3,568 L768.8,568.1 L769.3,567.9 L769.8,567.8 L770.2,567.8 L770.7,568.2 L771.2,568.1 L771.6,567.8 L772.1,567.8 L772.6,567.3 L773.1,567 L773.5,567.6 L774,568.3 L774.5,568.2 L774.9,567.9 L775.4,567.5 L775.9,567.7 L776.3,568.3 L776.8,568.5 L777.3,568.3 L777.8,568.5 L778.2,567.9 L778.7,567.9 L779.2,568.4 L779.6,568.3 L780.1,568.1 L780.6,567.7 L781,567.8 L781.5,568.4 L782,567.6 L782.5,568 L782.9,568.4 L783.4,568.6 L783.9,568.6 L784.3,568.7 L784.8,568.4 L785.3,568.3 L785.7,568 L786.2,567.4 L786.7,568 L787.2,568.1 L787.6,567.6 L788.1,567.7 L788.6,567.8 L789,567.6 L789.5,567.5 L790,567.7 L790.4,567.9 L790.9,568 L791.4,567.9 L791.9,567.3 L792.3,567.2 L792.8,567.1 L793.3,567.5 L793.7,568.1 L794.2,568.4 L794.7,568.5 L795.1,568.6 L795.6,568 L796.1,568.4 L796.6,568.4 L797,567.7 L797.5,567.2 L798,566.9 L798.4,567.6 L798.9,567.4 L799.4,567.1 L799.8,567.6 L800.3,567.5 L800.8,567.1 L801.3,567 L801.7,567.4 L802.2,567.2 L802.7,567.2 L803.1,567.7 L803.6,567.7 L804.1,567.6 L804.5,567.7 L805,567.2 L805.5,567.3 L806,567.5 L806.4,567.3 L806.9,567 L807.4,567.9 L807.8,567.9 L808.3,567.5 L808.8,567.8 L809.3,568.2 L809.7,567.5 L810.2,567.1 L810.7,567 L811.1,567.6 L811.6,567.3 L812.1,567.8 L812.5,568 L813,568 L813.5,567.6 L814,568.3 L814.4,568.5 L814.9,568.3 L815.4,567.8 L815.8,568 L816.3,567.8 L816.8,567.9 L817.2,567.7 L817.7,567.9 L818.2,567.3 L818.7,567.3 L819.1,568.1 L819.6,568.4 L820.1,568 L820.5,568.3 L821,567.9 L821.5,568.4 L821.9,568.4 L822.4,568.1 L822.9,567.6 L823.4,567.1 L823.8,567.8 L824.3,567.2 L824.8,567.8 L825.2,568.3 L825.7,568.1 L826.2,567.5 L826.6,567.9 L827.1,568.3 L827.6,568.1 L828.1,567.8 L828.5,567.3 L829,566.9 L829.5,566.4 L829.9,566.4 L830.4,565.8 L830.9,564.7 L831.3,563.3 L831.8,562.2 L832.3,560.7 L832.8,560.9 L833.2,562.1 L833.7,564.2 L834.2,565.8 L834.6,565.7 L835.1,565.9 L835.6,566.3 L836,567.3 L836.5,567.7 L837,567.4 L837.5,567.1 L837.9,567.5 L838.4,567.9 L838.9,568.3 L839.3,567.8 L839.8,568.2 L840.3,568.2 L840.8,568 L841.2,568.4 L841.7,567.8 L842.2,568 L842.6,567.4 L843.1,567.1 L843.6,567.8 L844,567.4 L844.5,567.8 L845,567.8 L845.5,568.1 L845.9,567.7 L846.4,567.5 L846.9,567.2 L847.3,567.8 L847.8,567.8 L848.3,568.2 L848.7,568.3 L849.2,567.5 L849.7,567.4 L850.2,566.9 L850.6,566.4 L851.1,566.1 L851.6,566.8 L852,567.1 L852.5,567.2 L853,566.6 L853.4,566.5 L853.9,566.4 L854.4,565.6 L854.9,565 L855.3,563.7 L855.8,562 L856.3,559.9 L856.7,557.4 L857.2,552.4 L857.7,546.6 L858.1,542.8 L858.6,545.8 L859.1,552.5 L859.6,557.7 L860,560.1 L860.5,562.3 L861,563 L861.4,563.5 L861.9,564.8 L862.4,564.6 L862.8,564.7 L863.3,565.6 L863.8,565.4 L864.3,564.9 L864.7,564.5 L865.2,564.3 L865.7,564.5 L866.1,563.6 L866.6,563.7 L867.1,562.6 L867.5,561.9 L868,560.4 L868.5,557 L869,552.3 L869.4,545.3 L869.9,532.7 L870.4,513.7 L870.8,492 L871.3,491.7 L871.8,513.9 L872.2,533.1 L872.7,545.4 L873.2,552.5 L873.7,556.7 L874.1,559.1 L874.6,561.7 L875.1,563.5 L875.5,564.8 L876,564.7 L876.5,564.8 L877,565.5 L877.4,566.4 L877.9,566.5 L878.4,566.8 L878.8,567 L879.3,566.7 L879.8,566.8 L880.2,566.7 L880.7,566.6 L881.2,566.3 L881.7,566.4 L882.1,567.3 L882.6,567.3 L883.1,567.5 L883.5,567.6 L884,568 L884.5,567.6 L884.9,567.3 L885.4,567.1 L885.9,567 L886.4,567.6 L886.8,568 L887.3,567.5 L887.8,567.2 L888.2,567.3 L888.7,567.3 L889.2,567.4 L889.6,566.9 L890.1,566.3 L890.6,566.1 L891.1,565.7 L891.5,565.8 L892,565.1 L892.5,564.3 L892.9,564 L893.4,563 L893.9,563.1 L894.3,563.3 L894.8,564.4 L895.3,564.3 L895.8,564.6 L896.2,565 L896.7,564 L897.2,564 L897.6,562.3 L898.1,560.8 L898.6,558.1 L899,553.3 L899.5,546.5 L900,542.5 L900.5,546.1 L900.9,553 L901.4,557.6 L901.9,561.3 L902.3,562.8 L902.8,564.6 L903.3,564.8 L903.7,565.3 L904.2,566.4 L904.7,567 L905.2,567.6 L905.6,567.8 L906.1,567.9 L906.6,568 L907,567.4 L907.5,567.4 L908,567.1 L908.5,567.6 L908.9,567.8 L909.4,567.5 L909.9,567.1 L910.3,567.9 L910.8,568.2 L911.3,568.1 L911.7,568.1 L912.2,568.4 L912.7,568.1 L913.2,567.9 L913.6,567.7 L914.1,567.5 L914.6,567.1 L915,567.6 L915.5,567.7 L916,567.9 L916.4,567.4 L916.9,567.4 L917.4,567.2 L917.9,567.1 L918.3,567.2 L918.8,567.9 L919.3,567.8 L919.7,567.8 L920.2,568 L920.7,567.7 L921.1,567.2 L921.6,567.6 L922.1,567.8 L922.6,568.1 L923,568 L923.5,568.2 L924,568.4 L924.4,568 L924.9,568 L925.4,568 L925.8,567.7 L926.3,567.7 L926.8,567.9 L927.3,568.5 L927.7,568.8 L928.2,568.2 L928.7,568.4 L929.1,567.7 L929.6,567.3 L930.1,567.6 L930.5,568.3 L931,567.8 L931.5,568.2 L932,568.6 L932.4,568.2 L932.9,568.4 L933.4,568.7 L933.8,568.3 L934.3,568.4 L934.8,568.5 L935.2,568.4 L935.7,568.7 L936.2,568.9 L936.7,569.1 L937.1,568.7 L937.6,568 L938.1,567.7 L938.5,567.4 L939,567.6 L939.5,567.9 L939.9,567.2 L940.4,567.5 L940.9,567.6 L941.4,567.1 L941.8,566.9 L942.3,566.3 L942.8,566.7 L943.2,566.2 L943.7,567.2 L944.2,567.7 L944.7,567.8 L945.1,567.5 L945.6,568.2 L946.1,568.6 L946.5,567.9 L947,568.2 L947.5,568.5 L947.9,568.5 L948.4,568.5 L948.9,568.2 L949.4,568.6 L949.8,568.9 L950.3,568.4 L950.8,568.6 L951.2,568.2 L951.7,567.7 L952.2,567.6 L952.6,567.2 L953.1,568 L953.6,568.4 L954.1,567.7 L954.5,567.8 L955,567.5 L955.5,567 L955.9,566.8 L956.4,566.5 L956.9,566.7 L957.3,565.7 L957.8,564.9 L958.3,564.1 L958.8,562.5 L959.2,562 L959.7,562.2 L960.2,563.7 L960.6,564.5 L961.1,565.3 L961.6,566.2 L962,566.4 L962.5,567 L963,567 L963.5,567.5 L963.9,568 L964.4,568.3 L964.9,568.7 L965.3,568.5 L965.8,568.2 L966.3,568.6 L966.7,568.7 L967.2,568.5 L967.7,568.2 L968.2,567.9 L968.6,567.5 L969.1,568.1 L969.6,567.6 L970,568.1 L970.5,568.1 L971,568.7 L971.4,568.7 L971.9,569 L972.4,568.2 L972.9,568.1 L973.3,568.2 L973.8,567.9 L974.3,568 L974.7,567.8 L975.2,567.9 L975.7,567.3 L976.2,567.5 L976.6,567.6 L977.1,567.5 L977.6,567.5 L978,568 L978.5,568.1 L979,568 L979.4,568 L979.9,567.7 L980.4,567.2 L980.9,566.7 L981.3,566.6 L981.8,566.8 L982.3,567.2 L982.7,567.1 L983.2,566.4 L983.7,566.1 L984.1,564.7 L984.6,563.4 L985.1,561.2 L985.6,559.8 L986,560.1 L986.5,561.1 L987,562.4 L987.4,564.1 L987.9,565.2 L988.4,565.6 L988.8,565.5 L989.3,565.9 L989.8,566.2 L990.3,566.3 L990.7,566.8 L991.2,566.7 L991.7,566.7 L992.1,566.6 L992.6,566 L993.1,564.8 L993.5,563.3 L994,560.8 L994.5,557.2 L995,553.6 L995.4,553.4 L995.9,557 L996.4,560.7 L996.8,563.6 L997.3,565.3 L997.8,566.4 L998.2,567.1 L998.7,567.6 L999.2,567.6 L999.7,567.4 L1000.1,567.3 L1000.6,567.7 L1001.1,568.2 L1001.5,568.1 L1002,567.6 L1002.5,568.2 L1002.9,568.1 L1003.4,568 L1003.9,567.5 L1004.4,567.7 L1004.8,568.2 L1005.3,568.1 L1005.8,567.9 L1006.2,568.2 L1006.7,567.6 L1007.2,567.8 L1007.6,568.5 L1008.1,568.6 L1008.6,568.3 L1009.1,568.5 L1009.5,568.5 L1010,568.1 L1010.5,567.8 L1010.9,568.4 L1011.4,568.1 L1011.9,567.6 L1012.4,568.3 L1012.8,568.3 L1013.3,568.1 L1013.8,568.2 L1014.2,568.5 L1014.7,568 L1015.2,568.3 L1015.6,568.6 L1016.1,568.8 L1016.6,568.3 L1017.1,568.5 L1017.5,568.1 L1018,568.2 L1018.5,567.9 L1018.9,568.4 L1019.4,568.8 L1019.9,568.4 L1020.3,568 L1020.8,568.7 L1021.3,568.8 L1021.8,569 L1022.2,568.2 L1022.7,568.7 L1023.2,568.7 L1023.6,568.3 L1024.1,568.3 L1024.6,568.6 L1025,568.8 L1025.5,568.3 L1026,568.4 L1026.5,568 L1026.9,568.7 L1027.4,568.5 L1027.9,568.9 L1028.3,569 L1028.8,568.8 L1029.3,568.4 L1029.7,568.4 L1030.2,567.9 L1030.7,567.7 L1031.2,568.2 L1031.6,568.1 L1032.1,568.5 L1032.6,568.1 L1033,568.5 L1033.5,568.7 L1034,568.3 L1034.4,567.8 L1034.9,567.9 L1035.4,568.1 L1035.9,567.7 L1036.3,567.6 L1036.8,567.3 L1037.3,567.9 L1037.7,568.5 L1038.2,568.1 L1038.7,567.6 L1039.1,568.1 L1039.6,568.6 L1040.1,569 L1040.6,568.9 L1041,568.5 L1041.5,568.8 L1042,568.1 L1042.4,568.4 L1042.9,567.9 L1043.4,567.9 L1043.9,568 L1044.3,568 L1044.8,567.7 L1045.3,567.5 L1045.7,568.2 L1046.2,568.1 L1046.7,568.2 L1047.1,567.8 L1047.6,568.1 L1048.1,567.9 L1048.6,568 L1049,568.4 L1049.5,568.7 L1050,567.7 L1050.4,568 L1050.9,568.1 L1051.4,567.5 L1051.8,567 L1052.3,566.8 L1052.8,566.9 L1053.3,565.9 L1053.7,565.3 L1054.2,564 L1054.7,561.2 L1055.1,558.7 L1055.6,554.4 L1056.1,552.4 L1056.5,554.5 L1057,557.6 L1057.5,560.7 L1058,562.6 L1058.4,564.3 L1058.9,565.8 L1059.4,566.9 L1059.8,566.5 L1060.3,566.4 L1060.8,567.4 L1061.2,567 L1061.7,567.1 L1062.2,567 L1062.7,566.9 L1063.1,566.8 L1063.6,567.5 L1064.1,568 L1064.5,568.3 L1065,568.7 L1065.5,568.7 L1065.9,568.4 L1066.4,568.5 L1066.9,569 L1067.4,568.9 L1067.8,568.3 L1068.3,567.8" stroke="#36a9d4"/>
<path d="M739.2,599.7 L739.7,600.1 L740.1,599.2 L740.6,598.7 L741.1,599.3 L741.6,599.5 L742,599.6 L742.5,599.2 L743,599.3 L743.4,599.4 L743.9,599.4 L744.4,598.9 L744.8,598.9 L745.3,598.9 L745.8,599.3 L746.3,599.8 L746.7,600.1 L747.2,599.8 L747.7,599.5 L748.1,599.1 L748.6,598.6 L749.1,598.2 L749.5,598.6 L750,598.6 L750.5,598.7 L751,599.4 L751.4,599.3 L751.9,599.3 L752.4,598.9 L752.8,598.5 L753.3,598.5 L753.8,598.4 L754.2,598.7 L754.7,599.5 L755.2,599.6 L755.7,599 L756.1,599.6 L756.6,599.8 L757.1,599.8 L757.5,600 L758,600 L758.5,600 L758.9,599.5 L759.4,599.9 L759.9,600.2 L760.4,599.4 L760.8,599.6 L761.3,599.7 L761.8,599.4 L762.2,599.4 L762.7,599.3 L763.2,599.7 L763.6,599.5 L764.1,599.8 L764.6,599.3 L765.1,599.7 L765.5,600 L766,599.6 L766.5,599.5 L766.9,599.9 L767.4,599.9 L767.9,599.6 L768.3,599.1 L768.8,598.9 L769.3,599.2 L769.8,598.8 L770.2,599.4 L770.7,599 L771.2,599.6 L771.6,599.2 L772.1,599.7 L772.6,599.7 L773.1,599.5 L773.5,599.4 L774,599.5 L774.5,599.4 L774.9,599.1 L775.4,598.8 L775.9,598.9 L776.3,599.5 L776.8,599.5 L777.3,598.9 L777.8,599.4 L778.2,599.5 L778.7,599.9 L779.2,599.2 L779.6,599.5 L780.1,598.8 L780.6,599.1 L781,598.9 L781.5,598.6 L782,599.3 L782.5,598.8 L782.9,598.9 L783.4,599.4 L783.9,599 L784.3,598.7 L784.8,599.3 L785.3,599.2 L785.7,599.4 L786.2,598.7 L786.7,598.7 L787.2,598.5 L787.6,599 L788.1,598.5 L788.6,599.3 L789,598.7 L789.5,599.1 L790,598.5 L790.4,598.5 L790.9,599.1 L791.4,598.7 L791.9,598.5 L792.3,599 L792.8,598.9 L793.3,598.4 L793.7,599.3 L794.2,598.8 L794.7,598.4 L795.1,598.5 L795.6,598.9 L796.1,599.3 L796.6,598.7 L797,598.7 L797.5,598.3 L798,598.6 L798.4,599.1 L798.9,599.4 L799.4,599.7 L799.8,599.8 L800.3,599.9 L800.8,599.9 L801.3,599.5 L801.7,599 L802.2,599.2 L802.7,599 L803.1,598.5 L803.6,598.7 L804.1,599.3 L804.5,598.8 L805,599 L805.5,598.9 L806,599 L806.4,598.6 L806.9,599.3 L807.4,598.9 L807.8,599.1 L808.3,599 L808.8,598.4 L809.3,598.7 L809.7,598.4 L810.2,598.1 L810.7,597.9 L811.1,598 L811.6,597.9 L812.1,598.5 L812.5,598.7 L813,599.4 L813.5,599.8 L814,600.1 L814.4,599.3 L814.9,599.1 L815.4,598.8 L815.8,599 L816.3,599.1 L816.8,599.4 L817.2,599.5 L817.7,599 L818.2,598.9 L818.7,598.9 L819.1,598.3 L819.6,598 L820.1,598.2 L820.5,598 L821,598.6 L821.5,598.4 L821.9,598.1 L822.4,597.9 L822.9,597.9 L823.4,597.9 L823.8,598.2 L824.3,598.3 L824.8,598.2 L825.2,598.4 L825.7,598.1 L826.2,598.6 L826.6,599 L827.1,598.9 L827.6,598.4 L828.1,598 L828.5,597.8 L829,596.9 L829.5,596.6 L829.9,596.2 L830.4,595.3 L830.9,594.2 L831.3,593.9 L831.8,592.9 L832.3,592.4 L832.8,593 L833.2,593.5 L833.7,594 L834.2,595.5 L834.6,595.9 L835.1,595.9 L835.6,596.8 L836,596.7 L836.5,596.9 L837,597.8 L837.5,598.1 L837.9,597.6 L838.4,597.8 L838.9,597.9 L839.3,598.1 L839.8,597.8 L840.3,598.2 L840.8,597.7 L841.2,597.8 L841.7,597.9 L842.2,598.6 L842.6,598 L843.1,598.5 L843.6,598.1 L844,598.3 L844.5,598.1 L845,598.2 L845.5,598.5 L845.9,598.2 L846.4,597.7 L846.9,597.4 L847.3,597.1 L847.8,597.9 L848.3,598 L848.7,598.4 L849.2,598.3 L849.7,597.3 L850.2,597.4 L850.6,597.5 L851.1,597.4 L851.6,596.9 L852,596.3 L852.5,595.8 L853,595.6 L853.4,594.5 L853.9,593.7 L854.4,592.6 L854.9,591.6 L855.3,589.8 L855.8,587.4 L856.3,584.1 L856.7,579.4 L857.2,575 L857.7,572.3 L858.1,572.1 L858.6,574.8 L859.1,579.2 L859.6,583.6 L860,586.9 L860.5,589.7 L861,591 L861.4,592.4 L861.9,594.2 L862.4,594.5 L862.8,595.1 L863.3,595.2 L863.8,595.4 L864.3,596.6 L864.7,597.5 L865.2,597.7 L865.7,597.3 L866.1,597.2 L866.6,597.2 L867.1,597.7 L867.5,598.1 L868,598.1 L868.5,598.2 L869,597.8 L869.4,598 L869.9,598.7 L870.4,598.9 L870.8,598.3 L871.3,598.4 L871.8,598.7 L872.2,598.4 L872.7,598.9 L873.2,598.7 L873.7,598.9 L874.1,598.7 L874.6,599.3 L875.1,599.4 L875.5,599.2 L876,598.6 L876.5,598.5 L877,598 L877.4,598.4 L877.9,599 L878.4,598.5 L878.8,598.6 L879.3,598.6 L879.8,598.5 L880.2,598.8 L880.7,599.3 L881.2,599.3 L881.7,599 L882.1,599.4 L882.6,598.9 L883.1,599.1 L883.5,599.1 L884,599.2 L884.5,599.3 L884.9,598.6 L885.4,598.7 L885.9,598.4 L886.4,598.6 L886.8,599 L887.3,598.8 L887.8,597.8 L888.2,597.8 L888.7,597.9 L889.2,598.1 L889.6,597.8 L890.1,597.6 L890.6,596.4 L891.1,596.4 L891.5,595.9 L892,595 L892.5,594.6 L892.9,594.1 L893.4,593.1 L893.9,593.6 L894.3,594.4 L894.8,594.6 L895.3,595.6 L895.8,596.3 L896.2,596.3 L896.7,597.2 L897.2,597 L897.6,597.6 L898.1,597.7 L898.6,597.6 L899,598 L899.5,598.1 L900,597.9 L900.5,598.7 L900.9,598.1 L901.4,597.7 L901.9,598.1 L902.3,598.7 L902.8,598.9 L903.3,599.2 L903.7,599 L904.2,599.1 L904.7,598.8 L905.2,598.5 L905.6,598.6 L906.1,598.2 L906.6,597.9 L907,598.6 L907.5,598.3 L908,598.8 L908.5,599.2 L908.9,599 L909.4,599.1 L909.9,599.4 L910.3,599.6 L910.8,598.9 L911.3,598.5 L911.7,598.5 L912.2,598.6 L912.7,598.5 L913.2,598.1 L913.6,598.5 L914.1,599.2 L914.6,599 L915,599 L915.5,598.8 L916,598.8 L916.4,599.3 L916.9,598.9 L917.4,599.1 L917.9,599 L918.3,599 L918.8,599.5 L919.3,598.8 L919.7,599.2 L920.2,598.9 L920.7,599.1 L921.1,599.4 L921.6,599.4 L922.1,599.1 L922.6,599.4 L923,598.7 L923.5,599 L924,598.8 L924.4,598.9 L924.9,599.3 L925.4,599.5 L925.8,599.4 L926.3,599 L926.8,598.6 L927.3,598.7 L927.7,598.5 L928.2,598.4 L928.7,599.1 L929.1,598.6 L929.6,599.1 L930.1,598.8 L930.5,598.7 L931,598.5 L931.5,598.1 L932,598.4 L932.4,598.1 L932.9,598.3 L933.4,598.3 L933.8,598.9 L934.3,599.3 L934.8,599 L935.2,599 L935.7,599.4 L936.2,598.8 L936.7,598.2 L937.1,598 L937.6,597.7 L938.1,598.1 L938.5,598 L939,597.8 L939.5,598.1 L939.9,597.5 L940.4,597.7 L940.9,597.4 L941.4,596.8 L941.8,596.7 L942.3,596.1 L942.8,596.4 L943.2,596.8 L943.7,596.8 L944.2,597.2 L944.7,597.9 L945.1,598.1 L945.6,598.4 L946.1,598.7 L946.5,599 L947,599 L947.5,599.3 L947.9,598.7 L948.4,598.7 L948.9,598.8 L949.4,598.4 L949.8,598.3 L950.3,597.9 L950.8,598.6 L951.2,598.3 L951.7,598.2 L952.2,598.7 L952.6,598 L953.1,598.5 L953.6,597.8 L954.1,597.2 L954.5,597.1 L955,596.9 L955.5,597.3 L955.9,597.4 L956.4,597 L956.9,596 L957.3,595.1 L957.8,593.8 L958.3,593.1 L958.8,591.8 L959.2,590.8 L959.7,591 L960.2,591.3 L960.6,592.3 L961.1,594.2 L961.6,594.6 L962,595.1 L962.5,595.6 L963,596 L963.5,596.6 L963.9,596.8 L964.4,597.1 L964.9,597.2 L965.3,597.3 L965.8,597.8 L966.3,597.8 L966.7,597.9 L967.2,598.4 L967.7,597.9 L968.2,597.7 L968.6,598.4 L969.1,598.4 L969.6,598.8 L970,598.2 L970.5,598.4 L971,598.9 L971.4,598.5 L971.9,598.9 L972.4,598.9 L972.9,598.6 L973.3,599.1 L973.8,598.7 L974.3,598.6 L974.7,598.7 L975.2,598.3 L975.7,598.7 L976.2,598.7 L976.6,598.6 L977.1,598.5 L977.6,598.9 L978,599.1 L978.5,599 L979,598.4 L979.4,597.9 L979.9,597.7 L980.4,596.9 L980.9,596.3 L981.3,596.8 L981.8,595.8 L982.3,595.9 L982.7,595.2 L983.2,594.6 L983.7,592.5 L984.1,590.7 L984.6,589.6 L985.1,587.5 L985.6,586.7 L986,587.4 L986.5,588.6 L987,590.1 L987.4,592.2 L987.9,593.2 L988.4,595 L988.8,595.9 L989.3,595.8 L989.8,596.9 L990.3,596.9 L990.7,597.2 L991.2,597.6 L991.7,597.3 L992.1,597.7 L992.6,597.4 L993.1,597.4 L993.5,598.3 L994,598.7 L994.5,598.7 L995,598.8 L995.4,599.2 L995.9,598.5 L996.4,598.6 L996.8,598.2 L997.3,597.9 L997.8,597.8 L998.2,597.8 L998.7,597.6 L999.2,597.7 L999.7,598 L1000.1,598.5 L1000.6,599 L1001.1,599.4 L1001.5,599.5 L1002,599.2 L1002.5,599.6 L1002.9,598.9 L1003.4,598.4 L1003.9,599 L1004.4,599.1 L1004.8,598.7 L1005.3,598.6 L1005.8,598.5 L1006.2,598.6 L1006.7,598.6 L1007.2,598.6 L1007.6,599.1 L1008.1,599.4 L1008.6,599.3 L1009.1,599.1 L1009.5,598.8 L1010,599.2 L1010.5,599.7 L1010.9,599 L1011.4,599.2 L1011.9,599.4 L1012.4,599.4 L1012.8,598.6 L1013.3,598.8 L1013.8,598.5 L1014.2,598.3 L1014.7,598.7 L1015.2,599 L1015.6,599.1 L1016.1,599.3 L1016.6,599.4 L1017.1,599.2 L1017.5,598.6 L1018,599.1 L1018.5,599.4 L1018.9,599.6 L1019.4,599.5 L1019.9,598.7 L1020.3,598.5 L1020.8,598.2 L1021.3,598.7 L1021.8,598.8 L1022.2,598.5 L1022.7,599.2 L1023.2,599.7 L1023.6,599.9 L1024.1,599.5 L1024.6,599 L1025,598.7 L1025.5,599.2 L1026,599.3 L1026.5,598.9 L1026.9,599.4 L1027.4,599.3 L1027.9,599.1 L1028.3,598.9 L1028.8,599.2 L1029.3,599.1 L1029.7,599.2 L1030.2,598.7 L1030.7,599 L1031.2,598.7 L1031.6,599.3 L1032.1,598.9 L1032.6,598.7 L1033,598.9 L1033.5,598.8 L1034,598.9 L1034.4,599.4 L1034.9,598.9 L1035.4,599.3 L1035.9,599.4 L1036.3,599.6 L1036.8,599.3 L1037.3,599.1 L1037.7,598.9 L1038.2,598.9 L1038.7,598.6 L1039.1,598.4 L1039.6,598.6 L1040.1,598.4 L1040.6,598.6 L1041,598.8 L1041.5,598.7 L1042,598.4 L1042.4,598.8 L1042.9,599.3 L1043.4,598.8 L1043.9,599 L1044.3,599.2 L1044.8,599.6 L1045.3,599.6 L1045.7,599.1 L1046.2,598.7 L1046.7,599.2 L1047.1,598.9 L1047.6,598.3 L1048.1,599 L1048.6,598.7 L1049,598.6 L1049.5,598.5 L1050,598.4 L1050.4,598.9 L1050.9,598.8 L1051.4,598.8 L1051.8,598.8 L1052.3,599.3 L1052.8,598.6 L1053.3,598.8 L1053.7,598.5 L1054.2,598.2 L1054.7,598.7 L1055.1,598.6 L1055.6,598.3 L1056.1,598.7 L1056.5,599.3 L1057,599.3 L1057.5,599.2 L1058,599.5 L1058.4,599.8 L1058.9,599 L1059.4,598.8 L1059.8,599.4 L1060.3,599.8 L1060.8,599.1 L1061.2,599.3 L1061.7,599.6 L1062.2,599.5 L1062.7,599.5 L1063.1,599.3 L1063.6,598.9 L1064.1,598.6 L1064.5,598.2 L1065,598.7 L1065.5,598.4 L1065.9,598.8 L1066.4,598.7 L1066.9,598.8 L1067.4,599.4 L1067.8,599.1 L1068.3,599" stroke="#3c3c3c"/>
<path d="M739.2,634.9 L739.7,635.1 L740.1,635 L740.6,635.2 L741.1,635.3 L741.6,634.8 L742,634.3 L742.5,635.1 L743,634.8 L743.4,634.7 L743.9,635.5 L744.4,635.3 L744.8,635.7 L745.3,635.5 L745.8,635.5 L746.3,635 L746.7,635.2 L747.2,635.7 L747.7,635.5 L748.1,635.7 L748.6,635.7 L749.1,635 L749.5,635.4 L750,635.4 L750.5,635.1 L751,634.6 L751.4,635.3 L751.9,635.2 L752.4,635.5 L752.8,635.8 L753.3,635.8 L753.8,636.1 L754.2,635.6 L754.7,635.8 L755.2,635.5 L755.7,635.9 L756.1,636.1 L756.6,635.2 L757.1,634.8 L757.5,634.6 L758,635.4 L758.5,635.3 L758.9,635.4 L759.4,635.1 L759.9,635.1 L760.4,635 L760.8,634.9 L761.3,635.1 L761.8,635.3 L762.2,635.7 L762.7,635.7 L763.2,636 L763.6,636.1 L764.1,636.4 L764.6,636.1 L765.1,635.3 L765.5,635.7 L766,636.1 L766.5,636.2 L766.9,635.9 L767.4,635.9 L767.9,635.3 L768.3,635.6 L768.8,635.6 L769.3,635.2 L769.8,634.7 L770.2,635.3 L770.7,635.9 L771.2,635.1 L771.6,635.5 L772.1,635.3 L772.6,634.8 L773.1,634.7 L773.5,635.3 L774,635.7 L774.5,635 L774.9,635.2 L775.4,634.7 L775.9,635.1 L776.3,635 L776.8,635.5 L777.3,636 L777.8,635.7 L778.2,636.1 L778.7,635.5 L779.2,634.9 L779.6,635.1 L780.1,634.6 L780.6,634.5 L781,634.7 L781.5,635 L782,634.7 L782.5,634.4 L782.9,635.1 L783.4,634.9 L783.9,635.6 L784.3,635.9 L784.8,635.5 L785.3,635.3 L785.7,635.3 L786.2,635.5 L786.7,635.5 L787.2,635.4 L787.6,635.5 L788.1,635.9 L788.6,635.6 L789,635.4 L789.5,635.6 L790,635.1 L790.4,634.9 L790.9,635.6 L791.4,635.5 L791.9,635.4 L792.3,634.8 L792.8,634.8 L793.3,635.1 L793.7,634.6 L794.2,635 L794.7,635.2 L795.1,634.7 L795.6,635.1 L796.1,635.1 L796.6,635.4 L797,635.1 L797.5,635.4 L798,635.6 L798.4,634.9 L798.9,634.5 L799.4,635 L799.8,635.6 L800.3,635.2 L800.8,635.1 L801.3,635.3 L801.7,635 L802.2,634.9 L802.7,634.8 L803.1,634.8 L803.6,635.1 L804.1,634.9 L804.5,634.9 L805,635.3 L805.5,634.7 L806,635 L806.4,635.4 L806.9,635.1 L807.4,634.8 L807.8,635.3 L808.3,635 L808.8,634.7 L809.3,634.8 L809.7,635.2 L810.2,634.7 L810.7,634.7 L811.1,634.7 L811.6,635.3 L812.1,635.2 L812.5,635.6 L813,635 L813.5,634.9 L814,635.2 L814.4,635.7 L814.9,635.4 L815.4,635 L815.8,634.6 L816.3,634.9 L816.8,634.6 L817.2,635.2 L817.7,635.6 L818.2,635 L818.7,634.8 L819.1,635.3 L819.6,635.4 L820.1,635.7 L820.5,635.2 L821,634.7 L821.5,634.6 L821.9,635.2 L822.4,634.8 L822.9,634.7 L823.4,634.7 L823.8,634.7 L824.3,634.7 L824.8,635.3 L825.2,634.7 L825.7,634.2 L826.2,634.9 L826.6,635.3 L827.1,635.6 L827.6,635 L828.1,635.3 L828.5,635.3 L829,634.3 L829.5,634.2 L829.9,633.9 L830.4,633.2 L830.9,632 L831.3,630.2 L831.8,628.2 L832.3,626.5 L832.8,626.1 L833.2,628 L833.7,629.7 L834.2,631.7 L834.6,632.1 L835.1,633.4 L835.6,634 L836,634.7 L836.5,635.1 L837,635.4 L837.5,635.2 L837.9,634.5 L838.4,634.9 L838.9,634.5 L839.3,634.4 L839.8,634.8 L840.3,634.9 L840.8,634.8 L841.2,635.4 L841.7,635.3 L842.2,635 L842.6,634.6 L843.1,635.2 L843.6,635 L844,635.3 L844.5,635 L845,634.6 L845.5,634.7 L845.9,635.1 L846.4,634.6 L846.9,635 L847.3,635.4 L847.8,635.5 L848.3,635.5 L848.7,634.5 L849.2,634.7 L849.7,635 L850.2,634.2 L850.6,633.9 L851.1,633.6 L851.6,633.7 L852,633.5 L852.5,633.4 L853,633.4 L853.4,632.3 L853.9,631.4 L854.4,630.5 L854.9,629.2 L855.3,627.4 L855.8,625.9 L856.3,622.6 L856.7,616.4 L857.2,610.3 L857.7,606.9 L858.1,610 L858.6,616.3 L859.1,622.1 L859.6,626.1 L860,628.4 L860.5,629.8 L861,630.9 L861.4,631.5 L861.9,632.4 L862.4,633.3 L862.8,633.4 L863.3,633.2 L863.8,633.3 L864.3,633.6 L864.7,634.1 L865.2,634.6 L865.7,634.5 L866.1,635 L866.6,635 L867.1,634.9 L867.5,634.7 L868,634.8 L868.5,635.1 L869,634.9 L869.4,635.2 L869.9,635.1 L870.4,634.7 L870.8,634.9 L871.3,635.2 L871.8,634.6 L872.2,634.7 L872.7,634.8 L873.2,635.3 L873.7,635.8 L874.1,635.3 L874.6,635.7 L875.1,635.8 L875.5,635.3 L876,635.2 L876.5,634.7 L877,635.2 L877.4,635.4 L877.9,635.7 L878.4,635.9 L878.8,635.8 L879.3,635.8 L879.8,635.6 L880.2,634.9 L880.7,635.1 L881.2,634.5 L881.7,634.3 L882.1,635 L882.6,634.5 L883.1,634.2 L883.5,634.1 L884,634.9 L884.5,634.6 L884.9,634.2 L885.4,634.9 L885.9,634.5 L886.4,635.1 L886.8,635.2 L887.3,635.4 L887.8,635.7 L888.2,635.3 L888.7,635.3 L889.2,634.4 L889.6,634.6 L890.1,634.2 L890.6,634.1 L891.1,633 L891.5,632.7 L892,632.2 L892.5,630.1 L892.9,628.6 L893.4,628.2 L893.9,629.2 L894.3,630.1 L894.8,631.1 L895.3,632 L895.8,633.1 L896.2,633.9 L896.7,634.1 L897.2,634.2 L897.6,634.3 L898.1,634.3 L898.6,634.5 L899,634.2 L899.5,634.5 L900,635.3 L900.5,635.1 L900.9,635.4 L901.4,634.9 L901.9,635.2 L902.3,635.5 L902.8,635.6 L903.3,635.4 L903.7,635.3 L904.2,635.4 L904.7,635.8 L905.2,635.2 L905.6,634.7 L906.1,635.2 L906.6,635.7 L907,635.5 L907.5,635.4 L908,635.6 L908.5,635.1 L908.9,634.9 L909.4,634.7 L909.9,635 L910.3,634.9 L910.8,634.7 L911.3,635.2 L911.7,635.7 L912.2,635.3 L912.7,635.5 L913.2,635.3 L913.6,635.7 L914.1,635.7 L914.6,635.2 L915,634.9 L915.5,634.5 L916,634.8 L916.4,634.8 L916.9,634.6 L917.4,634.7 L917.9,634.7 L918.3,635.3 L918.8,634.9 L919.3,635.6 L919.7,635.5 L920.2,635.5 L920.7,635.4 L921.1,635.7 L921.6,635.9 L922.1,635.8 L922.6,635.5 L923,635.7 L923.5,636 L924,635.6 L924.4,635.7 L924.9,636.1 L925.4,635.7 L925.8,635.2 L926.3,634.9 L926.8,635.3 L927.3,635.5 L927.7,636 L928.2,636.1 L928.7,635.5 L929.1,635 L929.6,634.8 L930.1,634.6 L930.5,635.1 L931,635.6 L931.5,635.9 L932,635.4 L932.4,635.7 L932.9,635.3 L933.4,635.2 L933.8,635.5 L934.3,634.8 L934.8,634.5 L935.2,635.1 L935.7,634.9 L936.2,634.8 L936.7,635 L937.1,635.2 L937.6,634.5 L938.1,634.5 L938.5,634.5 L939,634.6 L939.5,634.2 L939.9,634.3 L940.4,634.7 L940.9,634.2 L941.4,633.8 L941.8,632.9 L942.3,632.4 L942.8,632.7 L943.2,632.4 L943.7,633.4 L944.2,634.3 L944.7,633.9 L945.1,634.7 L945.6,634.6 L946.1,635 L946.5,635.3 L947,634.9 L947.5,635.1 L947.9,635.3 L948.4,635.5 L948.9,635 L949.4,635.3 L949.8,635.8 L950.3,635.7 L950.8,635.4 L951.2,634.8 L951.7,634.8 L952.2,634.7 L952.6,635 L953.1,635.1 L953.6,635 L954.1,634.5 L954.5,634.6 L955,634.6 L955.5,634 L955.9,634.4 L956.4,634.1 L956.9,633 L957.3,632.9 L957.8,631.3 L958.3,629.7 L958.8,628.2 L959.2,626.7 L959.7,626.7 L960.2,628.4 L960.6,630.1 L961.1,631.3 L961.6,632.1 L962,632.4 L962.5,633.5 L963,634.2 L963.5,634.5 L963.9,634.9 L964.4,634.7 L964.9,634.5 L965.3,634.5 L965.8,635.1 L966.3,634.5 L966.7,634.7 L967.2,634.6 L967.7,635.1 L968.2,634.9 L968.6,634.8 L969.1,634.8 L969.6,635 L970,635.4 L970.5,635.1 L971,635.5 L971.4,634.9 L971.9,634.7 L972.4,634.4 L972.9,634.2 L973.3,634.9 L973.8,635.3 L974.3,634.8 L974.7,634.5 L975.2,634.6 L975.7,635.1 L976.2,635.4 L976.6,635.5 L977.1,635.4 L977.6,634.8 L978,634.7 L978.5,634.3 L979,634.5 L979.4,634.6 L979.9,634.2 L980.4,633.9 L980.9,634.3 L981.3,633.5 L981.8,633.8 L982.3,633.9 L982.7,633.7 L983.2,632.4 L983.7,631.1 L984.1,629.3 L984.6,626.9 L985.1,624.8 L985.6,623.4 L986,624.2 L986.5,627.2 L987,629.4 L987.4,631.1 L987.9,632.5 L988.4,632.5 L988.8,633.5 L989.3,634.1 L989.8,634.3 L990.3,634.4 L990.7,634.5 L991.2,634.3 L991.7,634.5 L992.1,634.1 L992.6,634.5 L993.1,634.9 L993.5,634.9 L994,635 L994.5,635.6 L995,635.9 L995.4,635.2 L995.9,635.5 L996.4,635.5 L996.8,634.8 L997.3,634.8 L997.8,634.7 L998.2,634.4 L998.7,634.8 L999.2,635.5 L999.7,635.2 L1000.1,635.6 L1000.6,635.7 L1001.1,635.1 L1001.5,635.6 L1002,635.6 L1002.5,636 L1002.9,635.9 L1003.4,636 L1003.9,635.5 L1004.4,635.8 L1004.8,636.1 L1005.3,636.2 L1005.8,635.8 L1006.2,635.9 L1006.7,635.6 L1007.2,635 L1007.6,634.6 L1008.1,634.3 L1008.6,634.4 L1009.1,634.3 L1009.5,634.7 L1010,635.2 L1010.5,635.3 L1010.9,635.2 L1011.4,635.4 L1011.9,635.1 L1012.4,635.1 L1012.8,635.5 L1013.3,635.3 L1013.8,634.9 L1014.2,635.5 L1014.7,635.7 L1015.2,635.3 L1015.6,635.1 L1016.1,635.2 L1016.6,635.3 L1017.1,635 L1017.5,634.5 L1018,634.4 L1018.5,635.1 L1018.9,634.7 L1019.4,634.8 L1019.9,634.6 L1020.3,634.5 L1020.8,634.3 L1021.3,634.5 L1021.8,634.4 L1022.2,634.1 L1022.7,634 L1023.2,634 L1023.6,634.4 L1024.1,634.1 L1024.6,633.9 L1025,634.3 L1025.5,634.4 L1026,634.9 L1026.5,634.4 L1026.9,634.5 L1027.4,634.5 L1027.9,634 L1028.3,634.9 L1028.8,634.5 L1029.3,634.1 L1029.7,634.3 L1030.2,634 L1030.7,634.4 L1031.2,634.2 L1031.6,633.8 L1032.1,633.5 L1032.6,634.1 L1033,633.8 L1033.5,634.3 L1034,634.1 L1034.4,634.5 L1034.9,634 L1035.4,633.6 L1035.9,633.3 L1036.3,633.8 L1036.8,633.8 L1037.3,633.4 L1037.7,632.9 L1038.2,633.2 L1038.7,633.8 L1039.1,633.7 L1039.6,632.9 L1040.1,632.5 L1040.6,632.3 L1041,632.4 L1041.5,632.3 L1042,632.3 L1042.4,633 L1042.9,633.8 L1043.4,633.5 L1043.9,634.3 L1044.3,634.2 L1044.8,634.5 L1045.3,634.9 L1045.7,635.2 L1046.2,634.3 L1046.7,634.2 L1047.1,634.4 L1047.6,635 L1048.1,634.4 L1048.6,634.3 L1049,634.9 L1049.5,634.4 L1050,634.4 L1050.4,634.4 L1050.9,634.8 L1051.4,635.4 L1051.8,634.8 L1052.3,635.2 L1052.8,635.4 L1053.3,635.7 L1053.7,635.5 L1054.2,635.8 L1054.7,635.4 L1055.1,635.2 L1055.6,634.8 L1056.1,635.3 L1056.5,635.2 L1057,634.9 L1057.5,634.6 L1058,635.1 L1058.4,635.3 L1058.9,635.5 L1059.4,635.3 L1059.8,635.3 L1060.3,634.8 L1060.8,635.3 L1061.2,634.7 L1061.7,634.9 L1062.2,635.4 L1062.7,635.6 L1063.1,635 L1063.6,634.8 L1064.1,635.4 L1064.5,635.6 L1065,635.9 L1065.5,636.1 L1065.9,635.8 L1066.4,636.1 L1066.9,636.1 L1067.4,635.6 L1067.8,635.3 L1068.3,634.8" stroke="#d65a9c"/>
</g>
<g fill="#e0559e">
<circle cx="832" cy="621.8" r="3.7"/>
<circle cx="857" cy="600.4" r="3.7"/>
<circle cx="893" cy="622.9" r="3.7"/>
<circle cx="942" cy="626" r="3.7"/>
<circle cx="959.6" cy="619.7" r="3.7"/>
<circle cx="985.5" cy="616" r="3.7"/>
<circle cx="1039.5" cy="624.5" r="3.7"/>
</g>
<path d="M870.9,476.8 L876.1,482 L870.9,487.2 L865.7,482 Z" fill="#1e9fe0"/>
<path d="M899.7,528.8 L904.9,534 L899.7,539.2 L894.5,534 Z" fill="#1e9fe0"/>
<path d="M995.2,538.2 L1000.4,543.4 L995.2,548.6 L990,543.4 Z" fill="#1e9fe0"/>
<path d="M1055.8,538.2 L1061,543.4 L1055.8,548.6 L1050.6,543.4 Z" fill="#1e9fe0"/>
<line x1="743" y1="469.7" x2="775" y2="469.7" stroke="#36a9d4" stroke-width="1.7"/>
<line x1="743" y1="490.8" x2="775" y2="490.8" stroke="#3c3c3c" stroke-width="1.7"/>
<line x1="743" y1="510.8" x2="775" y2="510.8" stroke="#d65a9c" stroke-width="1.7"/>
<text x="779.2" y="475.2" font-size="14" text-anchor="start" font-weight="normal" fill="#222" >Fe<tspan font-size="70%" dy="0.25em">3</tspan><tspan dy="-0.25em">​</tspan>O<tspan font-size="70%" dy="0.25em">4</tspan><tspan dy="-0.25em">​</tspan>@PDA@Ag</text>
<text x="779.2" y="495.2" font-size="14" text-anchor="start" font-weight="normal" fill="#222" >Fe<tspan font-size="70%" dy="0.25em">3</tspan><tspan dy="-0.25em">​</tspan>O<tspan font-size="70%" dy="0.25em">4</tspan><tspan dy="-0.25em">​</tspan>@PDA</text>
<text x="779.2" y="515.8" font-size="14" text-anchor="start" font-weight="normal" fill="#222" >Fe<tspan font-size="70%" dy="0.25em">3</tspan><tspan dy="-0.25em">​</tspan>O<tspan font-size="70%" dy="0.25em">4</tspan><tspan dy="-0.25em">​</tspan></text>
<circle cx="1009" cy="475" r="3.7" fill="#e0559e"/>
<path d="M1009,490.2 L1014.2,495.4 L1009,500.6 L1003.8,495.4 Z" fill="#1e9fe0"/>
<text x="1025.3" y="479.8" font-size="14" text-anchor="start" font-weight="normal" fill="#222" >Fe<tspan font-size="70%" dy="0.25em">3</tspan><tspan dy="-0.25em">​</tspan>O<tspan font-size="70%" dy="0.25em">4</tspan><tspan dy="-0.25em">​</tspan></text>
<text x="1025.3" y="500.3" font-size="14" text-anchor="start" font-weight="normal" fill="#222" >Ag</text>
<rect x="739.2" y="460" width="329.0999999999999" height="182.5" fill="none" stroke="#111" stroke-width="1.8"/>
<g stroke="#111" stroke-width="1.6">
<line x1="739.2" y1="642.5" x2="739.2" y2="647.5"/>
<line x1="762.7" y1="642.5" x2="762.7" y2="645.7"/>
<line x1="786.2" y1="642.5" x2="786.2" y2="647.5"/>
<line x1="809.7" y1="642.5" x2="809.7" y2="645.7"/>
<line x1="833.2" y1="642.5" x2="833.2" y2="647.5"/>
<line x1="856.7" y1="642.5" x2="856.7" y2="645.7"/>
<line x1="880.2" y1="642.5" x2="880.2" y2="647.5"/>
<line x1="903.7" y1="642.5" x2="903.7" y2="645.7"/>
<line x1="927.3" y1="642.5" x2="927.3" y2="647.5"/>
<line x1="950.8" y1="642.5" x2="950.8" y2="645.7"/>
<line x1="974.3" y1="642.5" x2="974.3" y2="647.5"/>
<line x1="997.8" y1="642.5" x2="997.8" y2="645.7"/>
<line x1="1021.3" y1="642.5" x2="1021.3" y2="647.5"/>
<line x1="1044.8" y1="642.5" x2="1044.8" y2="645.7"/>
<line x1="1068.3" y1="642.5" x2="1068.3" y2="647.5"/>
</g>
<g transform="translate(739.2,663.2) scale(1.08,1)"><text x="0" y="0" font-size="13.3" text-anchor="middle" font-weight="normal" fill="#1a1a1a" >10</text></g>
<g transform="translate(786.2,663.2) scale(1.08,1)"><text x="0" y="0" font-size="13.3" text-anchor="middle" font-weight="normal" fill="#1a1a1a" >20</text></g>
<g transform="translate(833.2,663.2) scale(1.08,1)"><text x="0" y="0" font-size="13.3" text-anchor="middle" font-weight="normal" fill="#1a1a1a" >30</text></g>
<g transform="translate(880.2,663.2) scale(1.08,1)"><text x="0" y="0" font-size="13.3" text-anchor="middle" font-weight="normal" fill="#1a1a1a" >40</text></g>
<g transform="translate(927.3,663.2) scale(1.08,1)"><text x="0" y="0" font-size="13.3" text-anchor="middle" font-weight="normal" fill="#1a1a1a" >50</text></g>
<g transform="translate(974.3,663.2) scale(1.08,1)"><text x="0" y="0" font-size="13.3" text-anchor="middle" font-weight="normal" fill="#1a1a1a" >60</text></g>
<g transform="translate(1021.3,663.2) scale(1.08,1)"><text x="0" y="0" font-size="13.3" text-anchor="middle" font-weight="normal" fill="#1a1a1a" >70</text></g>
<g transform="translate(1068.3,663.2) scale(1.08,1)"><text x="0" y="0" font-size="13.3" text-anchor="middle" font-weight="normal" fill="#1a1a1a" >80</text></g>
<text x="904" y="681" font-size="16.5" text-anchor="middle" font-weight="normal" fill="#1a1a1a" >2<tspan font-style="italic">θ</tspan> (deg.)</text>
<text transform="translate(726.8,553) rotate(-90) scale(1.0,1)" x="0" y="0" font-size="16.2" text-anchor="middle" fill="#1a1a1a">Intensity (arb. units)</text>
<text x="1.3" y="712.4" font-size="23" text-anchor="start" font-weight="bold" fill="#000" >E</text>
<clipPath id="clipE1"><rect x="24" y="693" width="165" height="78.7"/></clipPath>
<g clip-path="url(#clipE1)">
<rect x="24" y="693" width="165" height="78.7" fill="#e9e9e7"/>
<ellipse cx="106" cy="731.4" rx="69" ry="35.6" fill="url(#diskG)"/>
<ellipse cx="103.5" cy="728" rx="16" ry="5" fill="#8e8c84" opacity="0.6" filter="url(#blur1)"/>
<path d="M87,717 C87,707 94,701.3 103.2,701.3 C112.5,701.3 119.4,707 119.4,717 C119.4,726 112,731 103.2,731 C94.5,731 87,726 87,717 Z" fill="url(#silverG)"/>
<path d="M91.5,713 C93,707 98,705.5 104,705.5 C110,705.5 115,708 116,713 C115,720 110,723 104,723 C97,723 92,719 91.5,713 Z" fill="#262626"/>
<path d="M96,707 C99,705.8 108,705.8 112,707.5 L110,712 C106,710 100,710 97,712 Z" fill="#d8d8d8" opacity="0.6"/>
<ellipse cx="103" cy="703.5" rx="8" ry="1.8" fill="#fafafa" opacity="0.9"/>
<ellipse cx="103" cy="726" rx="11" ry="3.5" fill="#f4f4f4" opacity="0.85"/>
</g>
<g transform="translate(26.5,768.5) scale(1.08,1)"><text x="0" y="0" font-size="15" text-anchor="start" font-weight="normal" fill="#1a1a1a" >FPA (80 mM)</text></g>
<g transform="translate(169.5,761) scale(1.04,1)"><text x="0" y="0" font-size="13" text-anchor="middle" font-weight="normal" fill="#111" >2 mm</text></g>
<rect x="156.5" y="763.3" width="29.2" height="5.6" fill="#000"/>
<rect x="201.7" y="693.5" width="156.3" height="77.3" fill="url(#camBg)"/>
<rect x="363" y="693.5" width="155" height="77.3" fill="url(#camBg)"/>
<rect x="523.3" y="693.5" width="155" height="77.3" fill="url(#camBg)"/>
<path d="M283,710.8 C288,711 293,716 298,722 C305,730 308,737 307.5,744 C307,752 298,758 283,758 C268,758 259,752 258.5,744 C258,737 261,730 268,722 C273,716 278,711 283,710.8 Z" fill="url(#dropG)"/>
<path d="M262,748 C268,752 298,752 305,748 C303,755 295,758 283,758 C271,758 263,755 262,748 Z" fill="#262626" opacity="0.8"/>
<clipPath id="clipP2"><rect x="201.7" y="693.5" width="156.3" height="77.3"/></clipPath>
<ellipse cx="282" cy="694" rx="9" ry="8" fill="#bdbdbd" opacity="0.8" filter="url(#blur2)" clip-path="url(#clipP2)"/>
<g fill="#f0f0f0" opacity="0.9"><rect x="278" y="720" width="5" height="2.5"/><rect x="266" y="739" width="2.5" height="6"/><circle cx="294" cy="725" r="1.5"/><circle cx="298" cy="733" r="1.2"/><circle cx="281" cy="738" r="1"/></g>
<path d="M400.8,757 C410,738 425,731 442,730.8 C460,731 475,740 482.5,757 Z" fill="url(#dropG)"/>
<g fill="#f0f0f0" opacity="0.9"><rect x="433" y="742" width="6" height="4"/><ellipse cx="468" cy="744" rx="3" ry="2"/></g>
<clipPath id="clipD3"><rect x="523" y="694" width="156" height="64"/></clipPath>
<circle cx="603.6" cy="744" r="26.8" fill="url(#dropG)" clip-path="url(#clipD3)"/>
<g fill="#f0f0f0" opacity="0.9"><rect x="599" y="724" width="6" height="3"/><circle cx="616" cy="732" r="1.8"/><rect x="583.5" y="742" width="2.5" height="7"/><circle cx="619" cy="740" r="1"/></g>
<g transform="translate(205,711.7) scale(1.04,1)"><text x="0" y="0" font-size="15.5" text-anchor="start" font-weight="normal" fill="#1a1a1a" >0.96 s</text></g>
<g transform="translate(365.3,710.8) scale(1.04,1)"><text x="0" y="0" font-size="15.5" text-anchor="start" font-weight="normal" fill="#1a1a1a" >3.56 s</text></g>
<g transform="translate(526.3,710.8) scale(1.04,1)"><text x="0" y="0" font-size="15.5" text-anchor="start" font-weight="normal" fill="#1a1a1a" >6.76 s</text></g>
<g transform="translate(203.8,768.3) scale(1.03,1)"><text x="0" y="0" font-size="15.3" text-anchor="start" font-weight="normal" fill="#fff" >Initial state</text></g>
<g transform="translate(364,768.3) scale(1.03,1)"><text x="0" y="0" font-size="15.3" text-anchor="start" font-weight="normal" fill="#fff" >Extension</text></g>
<g transform="translate(524.7,768.3) scale(1.03,1)"><text x="0" y="0" font-size="15.3" text-anchor="start" font-weight="normal" fill="#fff" >Contraction</text></g>
<g transform="translate(335.8,762.5) scale(1.04,1)"><text x="0" y="0" font-size="13.5" text-anchor="middle" font-weight="normal" fill="#fff" >2 mm</text></g>
<rect x="318.3" y="765.8" width="35" height="2.9" fill="#fff"/>
<path d="M189,802.5 L235,842 L235,877 L189,918 Z" fill="url(#zoomG)"/>
<rect x="25" y="802.5" width="163.7" height="115.5" fill="#fff"/>
<path d="M30,905 L52,878 C62,865 66,878 66.7,876.7 L66.7,876 C75,840 120,812 182.5,810.8 L182.5,905 Z" fill="#cfe3f2"/>
<path d="M66.7,877 C72,838 115,812 182.5,810.8 L182.5,877 Z" fill="url(#egainG)"/>
<path d="M25.5,917.5 L25.5,913 L32,904 L38,912 L44,903 L52,911 L58,904 L66,913 L74,903 L80,911 L88,904 L94,912 L102,903 L108,913 L116,904 L124,911 L130,903 L138,912 L146,904 L152,911 L160,903 L166,912 L174,904 L180,902 L186,913 L188,917.5 L188,917.5 Z" fill="#f2ec1e" stroke="#111" stroke-width="0.9" stroke-linejoin="miter"/>
<line x1="25" y1="917.6" x2="188.7" y2="917.6" stroke="#111" stroke-width="1.2"/>
<g fill="#a4a4a4">
<circle cx="42" cy="886.5" r="7.4"/>
<circle cx="58.5" cy="891.5" r="7.4"/>
<circle cx="35" cy="898.5" r="7.4"/>
<circle cx="51.5" cy="905" r="7.4"/>
<circle cx="68.5" cy="904" r="7.4"/>
<circle cx="85" cy="901.5" r="7.4"/>
<circle cx="106.5" cy="900" r="7.4"/>
<circle cx="121.5" cy="903.5" r="7.4"/>
<circle cx="140" cy="900" r="7.4"/>
<circle cx="152" cy="895.5" r="7.4"/>
<circle cx="168.5" cy="897.5" r="7.4"/>
<circle cx="180" cy="897" r="7.4"/>
<circle cx="75" cy="893" r="7.4"/>
<circle cx="95" cy="892" r="7.4"/>
<circle cx="130" cy="891" r="7.4"/>
<circle cx="160" cy="889" r="7.4"/>
<circle cx="113" cy="889" r="7.4"/>
</g>
<g fill="#f8f8f8" filter="url(#blur1)">
<path d="M64,880 C70,872 90,874 100,875 C115,872 130,874 145,874 C160,872 175,874 185,876 L185,888 C170,890 150,887 135,889 C120,887 100,890 85,888 C75,889 66,887 64,880 Z"/>
</g>
<rect x="25" y="802.5" width="163.7" height="115.5" fill="none" stroke="#222" stroke-width="1" stroke-dasharray="3,2"/>
<text x="35.5" y="825.8" font-size="13.5" text-anchor="start" font-weight="normal" fill="#1a1a1a" >Reactive</text>
<text x="35.5" y="842.5" font-size="13.5" text-anchor="start" font-weight="normal" fill="#1a1a1a" >wetting</text>
<text x="35.5" y="859" font-size="13.5" text-anchor="start" font-weight="normal" fill="#1a1a1a" >layer</text>
<text x="137.5" y="830.3" font-size="13.5" text-anchor="start" font-weight="normal" fill="#1a1a1a" >EGaIn</text>
<line x1="75.8" y1="848.3" x2="121.7" y2="882.5" stroke="#111" stroke-width="1"/>
<circle cx="121.7" cy="882.5" r="3.5" fill="#111"/>
<path d="M153.3,898.3 L205,913" stroke="#111" stroke-width="1" fill="none"/>
<circle cx="153.3" cy="898.3" r="3.5" fill="#111"/>
<text x="220.8" y="919.4" font-size="16" text-anchor="start" font-weight="normal" fill="#1a1a1a" >FPA membrane</text>
<ellipse cx="291.7" cy="869.5" rx="64.3" ry="33" fill="#70789c"/>
<ellipse cx="291.7" cy="868" rx="64.3" ry="32.5" fill="url(#memG)"/>
<ellipse cx="291" cy="857" rx="44" ry="15" fill="#7c82a6" opacity="0.55" filter="url(#blur3)"/>
<clipPath id="clipDome1"><path d="M240,780 L335,780 L335,852 C315,866 260,866 240,852 Z"/></clipPath>
<circle cx="287" cy="834" r="37.5" fill="url(#domeG)" clip-path="url(#clipDome1)"/>
<ellipse cx="293" cy="820" rx="19" ry="15" fill="#f6faff" opacity="0.9" filter="url(#blur2)"/>
<ellipse cx="243.4" cy="859.5" rx="20.6" ry="18.7" fill="#353a52" stroke="#d8d878" stroke-width="1.4" stroke-dasharray="4,2.5"/>
<g transform="translate(313,809.5) scale(1.08,1)"><text x="0" y="0" font-size="15.8" text-anchor="start" font-weight="normal" fill="#1a1a1a" >HCl (1 M)</text></g>
<line x1="334" y1="816.4" x2="333.3" y2="856" stroke="#111" stroke-width="1"/>
<circle cx="333.3" cy="856" r="3.5" fill="#111"/>
<path d="M345.3,830.8 L368.2,830.8 L368.2,824.3 L387.5,836.6 L368.2,849 L368.2,842.8 L345.3,842.8 Z" fill="#eeeeee" stroke="#2a2a2a" stroke-width="1.3" stroke-linejoin="miter"/>
<path d="M506.3,830.7 L529.8,830.7 L529.8,824.3 L548.9,837 L529.8,849.6 L529.8,843.7 L506.3,843.7 Z" fill="#eeeeee" stroke="#2a2a2a" stroke-width="1.3" stroke-linejoin="miter"/>
<ellipse cx="443.3" cy="868.5" rx="68" ry="35.2" fill="#565e80"/>
<ellipse cx="443.3" cy="867" rx="68" ry="34.8" fill="url(#memG2)"/>
<path d="M386.6,872 C387,850 405,834 422,827 C432,822.5 456,822.5 467,827 C484,834 500,850 499.3,872 C499,888 475,895 443,895 C411,895 386.6,888 386.6,872 Z" fill="url(#dome2G)"/>
<ellipse cx="445" cy="830" rx="20" ry="6" fill="#50525e" opacity="0.85" filter="url(#blur1)"/>
<path d="M392,868 C396,850 408,840 418,836" stroke="#fff" stroke-width="1.2" fill="none" opacity="0.7"/>
<ellipse cx="604.8" cy="871.5" rx="68.5" ry="30.8" fill="url(#memG2)"/>
<ellipse cx="604.8" cy="866" rx="50" ry="16" fill="#8a8eac"/>
<path d="M554.8,845 C554,820 576,803.9 604.8,803.9 C633,803.9 655.6,820 654.8,845 C654.8,862 640,873 604.8,873 C569,873 554.8,862 554.8,845 Z" fill="url(#domeG)"/>
<ellipse cx="608" cy="836" rx="26" ry="20" fill="#f2f7ff" opacity="0.85" filter="url(#blur2)"/>
<text x="688.5" y="688" font-size="23" text-anchor="start" font-weight="bold" fill="#000" >F</text>
<rect x="743.8" y="871.8" width="38" height="4.2" fill="#ece83a"/>
<rect x="781.8" y="871.8" width="14.3" height="4.2" fill="#a5b565"/>
<rect x="796.1" y="871.8" width="139.7" height="4.2" fill="#22a062"/>
<rect x="938" y="871.8" width="25.3" height="4.2" fill="#3ab2e2"/>
<rect x="965.8" y="871.8" width="97.2" height="4.2" fill="#1f62a6"/>
<g stroke="#8a9aa8" stroke-width="0.9" stroke-dasharray="2.5,2">
<line x1="782.4" y1="852.8" x2="782.4" y2="871.8"/>
<line x1="795.9" y1="852.8" x2="795.9" y2="871.8"/>
<line x1="936.9" y1="852.8" x2="936.9" y2="871.8"/>
<line x1="964.6" y1="852.8" x2="964.6" y2="871.8"/>
</g>
<text x="764.2" y="870.7" font-family="'Liberation Serif', serif" font-weight="bold" font-size="10" text-anchor="middle" fill="#222">I</text>
<text x="790.5" y="870.7" font-family="'Liberation Serif', serif" font-weight="bold" font-size="10" text-anchor="middle" fill="#222">II</text>
<text x="859" y="870.7" font-family="'Liberation Serif', serif" font-weight="bold" font-size="10" text-anchor="middle" fill="#222">III</text>
<text x="952.5" y="870.7" font-family="'Liberation Serif', serif" font-weight="bold" font-size="10" text-anchor="middle" fill="#222">IV</text>
<text x="1013.3" y="870.7" font-family="'Liberation Serif', serif" font-weight="bold" font-size="10" text-anchor="middle" fill="#222">V</text>
<g fill="none" stroke-width="1.8" stroke-linejoin="round">
<path d="M746.6,722.7 C750.5,723 762.2,723.5 770,724.5 C777.8,725.5 784.5,728 793.6,729 C802.7,730 815.9,730.5 824.5,730.4 C833.1,730.3 839.7,729 845,728.5 C850.3,728 852.9,727.1 856.1,727.5 C859.3,727.9 861.4,728.8 864,731 C866.6,733.2 869.3,738.2 872,741 C874.7,743.8 877.4,746.5 880,748 C882.6,749.5 884.4,750 887.7,750 C891,750 894.4,746.4 899.7,748 C905,749.6 912.7,758.2 919.4,759.5 C926.1,760.8 932.2,757.2 940,756 C947.8,754.8 956.3,753.4 966.3,752.1 C976.3,750.8 989.6,749 1000,748 C1010.4,747 1018.7,745.6 1028.9,745.8 C1039.1,746 1055.7,748.8 1061,749.4" stroke="#3a3a3a"/>
<path d="M746.6,722.7 C753.1,722.8 778.8,719.6 785.6,723.3 C792.4,727 786.6,737 787.2,745 C787.9,753 788.4,764.8 789.5,771 C790.6,777.2 792,779.7 794,782 C796,784.3 795,785 801.4,784.8 C807.8,784.6 821.9,781.7 832.3,780.6 C842.7,779.5 856,779 863.9,778 C871.8,777 874.7,777 879.9,774.7 C885.1,772.4 889.1,767.2 895,764 C900.9,760.8 909.7,756.9 915,755.3 C920.3,753.7 919.5,755.1 927,754.2 C934.5,753.3 949.5,751.5 960,750 C970.5,748.5 978.4,746 990.1,745.2 C1001.8,744.4 1018.2,744.7 1030,745 C1041.8,745.3 1055.9,746.6 1061.1,746.9" stroke="#2ec52e"/>
<path d="M746.6,726.2 C751.8,726.2 771.9,725.1 777.6,726.2 C783.3,727.3 780,726.5 781,733 C782,739.5 782.6,750.4 783.3,765 C784,779.6 784.2,809.3 785.1,820.6 C786,831.9 787,829.9 788.5,833 C790,836.1 791.9,838 794,839.5 C796.1,841 797.5,841.5 801.4,842.1 C805.3,842.8 812.1,842.7 817.2,843.4 C822.4,844.1 827.1,845.2 832.3,846.3 C837.5,847.4 842.9,849 848.3,850.1 C853.7,851.2 859.3,852.1 864.6,852.6 C869.9,853.1 874.8,853.7 879.9,853.3 C885,852.9 892.2,854.8 895.4,850 C898.6,845.2 898.1,829.2 899,824.4 C899.9,819.6 900.3,822.3 901,821.3 C901.7,820.3 902.5,819.4 903.2,818.5 C903.9,817.6 904.5,819.3 905.3,815.7 C906.1,812.1 907,802.4 908,796.7 C909,791 910.5,786 911.6,781.3 C912.7,776.6 913.2,770.8 914.4,768.6 C915.6,766.4 916.4,769.5 918.6,767.9 C920.8,766.3 923.7,761.2 927.8,758.8 C931.9,756.4 938.2,753.7 943.2,753.6 C948.2,753.5 950.3,758 958,758.1 C965.7,758.2 979,754.9 989.5,754.2 C1000,753.6 1010.6,754.2 1021.1,754.2 C1031.6,754.2 1046,754.2 1052.7,754.2 C1059.4,754.2 1059.6,754.2 1061,754.2" stroke="#e0509a"/>
<path d="M746.6,744.3 C751.3,744.4 769.1,743.7 774.7,744.8 C780.3,745.9 779,745.8 780.4,751 C781.8,756.2 782.4,766.5 783.2,776 C784.1,785.5 784.6,799.8 785.5,808 C786.4,816.2 786.9,820.4 788.3,825 C789.6,829.6 788.7,833.1 793.6,835.8 C798.5,838.5 808.4,839.7 817.6,841.3 C826.8,842.9 841,845.6 848.8,845.5 C856.6,845.4 859.4,840.8 864.6,840.6 C869.8,840.4 874.8,844 879.9,844.2 C885,844.4 889.7,842.8 895,842 C900.3,841.2 905,842.2 911.6,839.6 C918.2,837 928.4,830.3 934.8,826.2 C941.2,822.1 947.1,817.7 950.2,815 C953.4,812.3 952.7,813.5 953.7,810 C954.8,806.5 955.5,799.2 956.5,793.9 C957.5,788.6 958.4,782.3 960,778 C961.6,773.7 962.7,770.3 966,768.2 C969.3,766.1 974.8,765.4 980,765.5 C985.2,765.6 990.6,767.9 997.3,769 C1004,770.1 1009.5,771.5 1020,772 C1030.5,772.5 1053.8,772.1 1060.5,772.1" stroke="#1e9ee0"/>
</g>
<rect x="742.6" y="718.7" width="8" height="8" fill="#3a3a3a"/>
<rect x="789.6" y="725" width="8" height="8" fill="#3a3a3a"/>
<rect x="820.5" y="726.4" width="8" height="8" fill="#3a3a3a"/>
<rect x="852.1" y="723.5" width="8" height="8" fill="#3a3a3a"/>
<rect x="883.7" y="746" width="8" height="8" fill="#3a3a3a"/>
<rect x="915.4" y="755.5" width="8" height="8" fill="#3a3a3a"/>
<rect x="962.3" y="748.1" width="8" height="8" fill="#3a3a3a"/>
<rect x="1024.9" y="741.8" width="8" height="8" fill="#3a3a3a"/>
<path d="M746.6,716.7 L748.2,720.5 L752.3,720.8 L749.2,723.5 L750.1,727.6 L746.6,725.4 L743.1,727.6 L744,723.5 L740.9,720.8 L745,720.5 Z" fill="#2ec52e"/>
<path d="M785.6,717.3 L787.2,721.1 L791.3,721.4 L788.2,724.1 L789.1,728.2 L785.6,726 L782.1,728.2 L783,724.1 L779.9,721.4 L784,721.1 Z" fill="#2ec52e"/>
<path d="M801.4,778.8 L803,782.6 L807.1,782.9 L804,785.6 L804.9,789.7 L801.4,787.5 L797.9,789.7 L798.8,785.6 L795.7,782.9 L799.8,782.6 Z" fill="#2ec52e"/>
<path d="M832.3,774.6 L833.9,778.4 L838,778.7 L834.9,781.4 L835.8,785.5 L832.3,783.3 L828.8,785.5 L829.7,781.4 L826.6,778.7 L830.7,778.4 Z" fill="#2ec52e"/>
<path d="M863.9,772 L865.5,775.8 L869.6,776.1 L866.5,778.8 L867.4,782.9 L863.9,780.7 L860.4,782.9 L861.3,778.8 L858.2,776.1 L862.3,775.8 Z" fill="#2ec52e"/>
<path d="M879.9,768.7 L881.5,772.5 L885.6,772.8 L882.5,775.5 L883.4,779.6 L879.9,777.4 L876.4,779.6 L877.3,775.5 L874.2,772.8 L878.3,772.5 Z" fill="#2ec52e"/>
<path d="M927,748.2 L928.6,752 L932.7,752.3 L929.6,755 L930.5,759.1 L927,756.9 L923.5,759.1 L924.4,755 L921.3,752.3 L925.4,752 Z" fill="#2ec52e"/>
<path d="M990.1,739.2 L991.7,743 L995.8,743.3 L992.7,746 L993.6,750.1 L990.1,747.9 L986.6,750.1 L987.5,746 L984.4,743.3 L988.5,743 Z" fill="#2ec52e"/>
<path d="M1061.1,740.9 L1062.7,744.7 L1066.8,745 L1063.7,747.7 L1064.6,751.8 L1061.1,749.6 L1057.6,751.8 L1058.5,747.7 L1055.4,745 L1059.5,744.7 Z" fill="#2ec52e"/>
<path d="M746.6,720.2 L752.6,730.7 L740.6,730.7 Z" fill="#e0509a"/>
<path d="M777.6,720.2 L783.6,730.7 L771.6,730.7 Z" fill="#e0509a"/>
<path d="M785.1,814.6 L791.1,825.1 L779.1,825.1 Z" fill="#e0509a"/>
<path d="M801.4,836.1 L807.4,846.6 L795.4,846.6 Z" fill="#e0509a"/>
<path d="M817.2,837.4 L823.2,847.9 L811.2,847.9 Z" fill="#e0509a"/>
<path d="M832.3,840.3 L838.3,850.8 L826.3,850.8 Z" fill="#e0509a"/>
<path d="M848.3,844.1 L854.3,854.6 L842.3,854.6 Z" fill="#e0509a"/>
<path d="M864.6,846.6 L870.6,857.1 L858.6,857.1 Z" fill="#e0509a"/>
<path d="M879.9,847.3 L885.9,857.8 L873.9,857.8 Z" fill="#e0509a"/>
<path d="M895.4,844 L901.4,854.5 L889.4,854.5 Z" fill="#e0509a"/>
<path d="M899,818.4 L905,828.9 L893,828.9 Z" fill="#e0509a"/>
<path d="M901,815.3 L907,825.8 L895,825.8 Z" fill="#e0509a"/>
<path d="M903.2,812.5 L909.2,823 L897.2,823 Z" fill="#e0509a"/>
<path d="M905.3,809.7 L911.3,820.2 L899.3,820.2 Z" fill="#e0509a"/>
<path d="M908,790.7 L914,801.2 L902,801.2 Z" fill="#e0509a"/>
<path d="M911.6,775.3 L917.6,785.8 L905.6,785.8 Z" fill="#e0509a"/>
<path d="M914.4,762.6 L920.4,773.1 L908.4,773.1 Z" fill="#e0509a"/>
<path d="M918.6,761.9 L924.6,772.4 L912.6,772.4 Z" fill="#e0509a"/>
<path d="M927.8,752.8 L933.8,763.3 L921.8,763.3 Z" fill="#e0509a"/>
<path d="M943.2,747.6 L949.2,758.1 L937.2,758.1 Z" fill="#e0509a"/>
<path d="M958,752.1 L964,762.6 L952,762.6 Z" fill="#e0509a"/>
<path d="M989.5,748.2 L995.5,758.7 L983.5,758.7 Z" fill="#e0509a"/>
<path d="M1021.1,748.2 L1027.1,758.7 L1015.1,758.7 Z" fill="#e0509a"/>
<path d="M1052.7,748.2 L1058.7,758.7 L1046.7,758.7 Z" fill="#e0509a"/>
<path d="M746.6,738.8 L752.1,744.3 L746.6,749.8 L741.1,744.3 Z" fill="#1e9ee0"/>
<path d="M785.1,738.8 L790.6,744.3 L785.1,749.8 L779.6,744.3 Z" fill="#1e9ee0"/>
<path d="M793.6,830.3 L799.1,835.8 L793.6,841.3 L788.1,835.8 Z" fill="#1e9ee0"/>
<path d="M817.6,835.8 L823.1,841.3 L817.6,846.8 L812.1,841.3 Z" fill="#1e9ee0"/>
<path d="M848.8,840 L854.3,845.5 L848.8,851 L843.3,845.5 Z" fill="#1e9ee0"/>
<path d="M864.6,835.1 L870.1,840.6 L864.6,846.1 L859.1,840.6 Z" fill="#1e9ee0"/>
<path d="M879.9,838.7 L885.4,844.2 L879.9,849.7 L874.4,844.2 Z" fill="#1e9ee0"/>
<path d="M911.6,834.1 L917.1,839.6 L911.6,845.1 L906.1,839.6 Z" fill="#1e9ee0"/>
<path d="M934.8,820.7 L940.3,826.2 L934.8,831.7 L929.3,826.2 Z" fill="#1e9ee0"/>
<path d="M950.2,809.5 L955.7,815 L950.2,820.5 L944.7,815 Z" fill="#1e9ee0"/>
<path d="M953.7,804.5 L959.2,810 L953.7,815.5 L948.2,810 Z" fill="#1e9ee0"/>
<path d="M956.5,788.4 L962,793.9 L956.5,799.4 L951,793.9 Z" fill="#1e9ee0"/>
<path d="M966,762.7 L971.5,768.2 L966,773.7 L960.5,768.2 Z" fill="#1e9ee0"/>
<path d="M997.3,763.5 L1002.8,769 L997.3,774.5 L991.8,769 Z" fill="#1e9ee0"/>
<path d="M1060.5,766.6 L1066,772.1 L1060.5,777.6 L1055,772.1 Z" fill="#1e9ee0"/>
<line x1="960" y1="798.6" x2="988.3" y2="798.6" stroke="#3a3a3a" stroke-width="1.8"/>
<line x1="960" y1="816.4" x2="988.3" y2="816.4" stroke="#2ec52e" stroke-width="1.8"/>
<line x1="960" y1="831.7" x2="988.3" y2="831.7" stroke="#e0509a" stroke-width="1.8"/>
<line x1="960" y1="847.2" x2="988.3" y2="847.2" stroke="#1e9ee0" stroke-width="1.8"/>
<rect x="971.5" y="795.1" width="7" height="7" fill="#3a3a3a"/>
<path d="M975,811.4 L976.3,814.6 L979.8,814.9 L977.1,817.1 L977.9,820.4 L975,818.6 L972.1,820.4 L972.9,817.1 L970.2,814.9 L973.7,814.6 Z" fill="#2ec52e"/>
<path d="M975,826.3 L980.4,835.8 L969.6,835.8 Z" fill="#e0509a"/>
<path d="M975,842.2 L980,847.2 L975,852.2 L970,847.2 Z" fill="#1e9ee0"/>
<text x="992.8" y="802.8" font-size="12.5" text-anchor="start" font-weight="normal" fill="#222" >Fe<tspan font-size="70%" dy="0.25em">3</tspan><tspan dy="-0.25em">​</tspan>O<tspan font-size="70%" dy="0.25em">4</tspan><tspan dy="-0.25em">​</tspan>@PDA</text>
<text x="992.8" y="821.1" font-size="12.5" text-anchor="start" font-weight="normal" fill="#222" >FPA (5 mM)</text>
<text x="992.8" y="836.3" font-size="12.5" text-anchor="start" font-weight="normal" fill="#222" >FPA (15 mM)</text>
<text x="992.8" y="851.7" font-size="12.5" text-anchor="start" font-weight="normal" fill="#222" >FPA (80 mM)</text>
<rect x="739.2" y="695.3" width="329.29999999999995" height="182.20000000000005" fill="none" stroke="#111" stroke-width="1.8"/>
<g stroke="#111" stroke-width="1.6">
<line x1="746.4" y1="877.5" x2="746.4" y2="882"/>
<line x1="762.1" y1="877.5" x2="762.1" y2="880.5"/>
<line x1="777.8" y1="877.5" x2="777.8" y2="880.5"/>
<line x1="793.6" y1="877.5" x2="793.6" y2="880.5"/>
<line x1="809.3" y1="877.5" x2="809.3" y2="880.5"/>
<line x1="825" y1="877.5" x2="825" y2="882"/>
<line x1="840.7" y1="877.5" x2="840.7" y2="880.5"/>
<line x1="856.4" y1="877.5" x2="856.4" y2="880.5"/>
<line x1="872.2" y1="877.5" x2="872.2" y2="880.5"/>
<line x1="887.9" y1="877.5" x2="887.9" y2="880.5"/>
<line x1="903.6" y1="877.5" x2="903.6" y2="882"/>
<line x1="919.3" y1="877.5" x2="919.3" y2="880.5"/>
<line x1="935" y1="877.5" x2="935" y2="880.5"/>
<line x1="950.8" y1="877.5" x2="950.8" y2="880.5"/>
<line x1="966.5" y1="877.5" x2="966.5" y2="880.5"/>
<line x1="982.2" y1="877.5" x2="982.2" y2="882"/>
<line x1="997.9" y1="877.5" x2="997.9" y2="880.5"/>
<line x1="1013.6" y1="877.5" x2="1013.6" y2="880.5"/>
<line x1="1029.4" y1="877.5" x2="1029.4" y2="880.5"/>
<line x1="1045.1" y1="877.5" x2="1045.1" y2="880.5"/>
<line x1="1060.8" y1="877.5" x2="1060.8" y2="882"/>
<line x1="739.2" y1="695.3" x2="735.2" y2="695.3"/>
<line x1="739.2" y1="707.5" x2="736.7" y2="707.5"/>
<line x1="739.2" y1="719.7" x2="735.2" y2="719.7"/>
<line x1="739.2" y1="731.8" x2="736.7" y2="731.8"/>
<line x1="739.2" y1="744" x2="735.2" y2="744"/>
<line x1="739.2" y1="756.2" x2="736.7" y2="756.2"/>
<line x1="739.2" y1="768.4" x2="735.2" y2="768.4"/>
<line x1="739.2" y1="780.6" x2="736.7" y2="780.6"/>
<line x1="739.2" y1="792.8" x2="735.2" y2="792.8"/>
<line x1="739.2" y1="804.9" x2="736.7" y2="804.9"/>
<line x1="739.2" y1="817.1" x2="735.2" y2="817.1"/>
<line x1="739.2" y1="829.3" x2="736.7" y2="829.3"/>
<line x1="739.2" y1="841.5" x2="735.2" y2="841.5"/>
<line x1="739.2" y1="853.7" x2="736.7" y2="853.7"/>
<line x1="739.2" y1="865.9" x2="735.2" y2="865.9"/>
</g>
<g transform="translate(746.4,895.8) scale(1.05,1)"><text x="0" y="0" font-size="13.3" text-anchor="middle" font-weight="normal" fill="#1a1a1a" >0</text></g>
<g transform="translate(825,895.8) scale(1.05,1)"><text x="0" y="0" font-size="13.3" text-anchor="middle" font-weight="normal" fill="#1a1a1a" >2</text></g>
<g transform="translate(903.6,895.8) scale(1.05,1)"><text x="0" y="0" font-size="13.3" text-anchor="middle" font-weight="normal" fill="#1a1a1a" >4</text></g>
<g transform="translate(982.2,895.8) scale(1.05,1)"><text x="0" y="0" font-size="13.3" text-anchor="middle" font-weight="normal" fill="#1a1a1a" >6</text></g>
<g transform="translate(1060.8,895.8) scale(1.05,1)"><text x="0" y="0" font-size="13.3" text-anchor="middle" font-weight="normal" fill="#1a1a1a" >8</text></g>
<g transform="translate(731,870.6) scale(1.05,1)"><text x="0" y="0" font-size="13.3" text-anchor="end" font-weight="normal" fill="#1a1a1a" >40</text></g>
<g transform="translate(731,846.2) scale(1.05,1)"><text x="0" y="0" font-size="13.3" text-anchor="end" font-weight="normal" fill="#1a1a1a" >60</text></g>
<g transform="translate(731,821.8) scale(1.05,1)"><text x="0" y="0" font-size="13.3" text-anchor="end" font-weight="normal" fill="#1a1a1a" >80</text></g>
<g transform="translate(731,797.5) scale(1.05,1)"><text x="0" y="0" font-size="13.3" text-anchor="end" font-weight="normal" fill="#1a1a1a" >100</text></g>
<g transform="translate(731,773.1) scale(1.05,1)"><text x="0" y="0" font-size="13.3" text-anchor="end" font-weight="normal" fill="#1a1a1a" >120</text></g>
<g transform="translate(731,748.7) scale(1.05,1)"><text x="0" y="0" font-size="13.3" text-anchor="end" font-weight="normal" fill="#1a1a1a" >140</text></g>
<g transform="translate(731,724.4) scale(1.05,1)"><text x="0" y="0" font-size="13.3" text-anchor="end" font-weight="normal" fill="#1a1a1a" >160</text></g>
<g transform="translate(731,700) scale(1.05,1)"><text x="0" y="0" font-size="13.3" text-anchor="end" font-weight="normal" fill="#1a1a1a" >180</text></g>
<text x="904" y="919.7" font-size="17.3" text-anchor="middle" font-weight="normal" fill="#1a1a1a" >Time (s)</text>
<text transform="translate(700.6,784) rotate(-90) scale(1.04,1)" x="0" y="0" font-size="17" text-anchor="middle" fill="#1a1a1a">Contact angle <tspan font-style="italic">θ</tspan> (deg.)</text>
</svg>
</body></html>
